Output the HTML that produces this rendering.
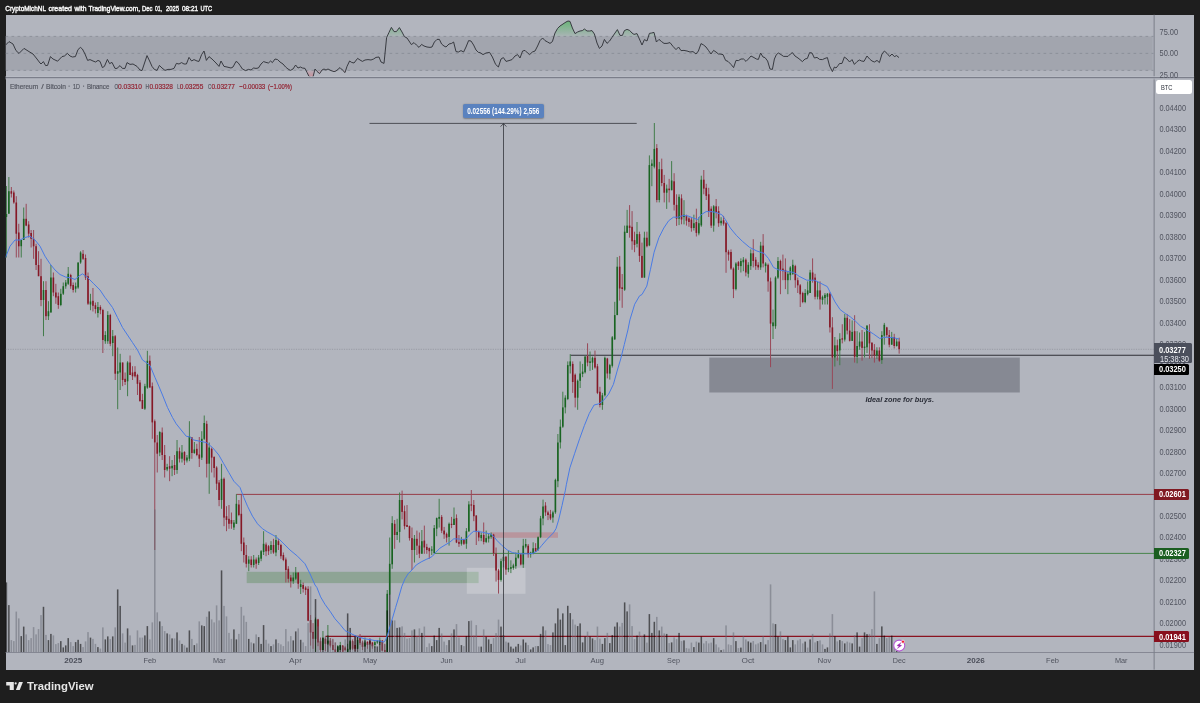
<!DOCTYPE html>
<html><head><meta charset="utf-8"><title>chart</title>
<style>
html,body{margin:0;padding:0;}
body{width:1200px;height:703px;background:#1e1e1e;position:relative;overflow:hidden;font-family:"Liberation Sans",sans-serif;}
#chart{position:absolute;left:5.5px;top:14.8px;width:1188.6px;height:654.8px;background:#b2b5be;}
svg{position:absolute;left:0;top:0;font-family:"Liberation Sans",sans-serif;will-change:transform;}
.sep{position:absolute;background:#7b7e8a;}
.tag{position:absolute;left:1154px;border-radius:0 1.5px 1.5px 0;}
#meas{position:absolute;left:462.8px;top:104.1px;width:81.2px;height:14.2px;background:#5a82bf;border-radius:2px;box-shadow:0 0.5px 1.5px rgba(0,0,0,0.3);}
#btc{position:absolute;left:1155.6px;top:79.8px;width:36.9px;height:14.1px;background:#fff;border-radius:2.5px;}
</style></head><body>
<div id="chart"></div>
<svg width="1200" height="703" viewBox="0 0 1200 703">
<defs><linearGradient id="gg" gradientUnits="userSpaceOnUse" x1="0" y1="17" x2="0" y2="36.4"><stop offset="0" stop-color="#3cb44b" stop-opacity="0.75"/><stop offset="1" stop-color="#3cb44b" stop-opacity="0.06"/></linearGradient><linearGradient id="gr" gradientUnits="userSpaceOnUse" x1="0" y1="70.4" x2="0" y2="79"><stop offset="0" stop-color="#f05060" stop-opacity="0.08"/><stop offset="1" stop-color="#f05060" stop-opacity="0.45"/></linearGradient><clipPath id="cp"><rect x="5.5" y="14.8" width="1149" height="637.7"/></clipPath></defs>
<rect x="1153.5" y="14.8" width="1.3" height="654.8" fill="#878a95"/>
<g clip-path="url(#cp)">
<rect x="5.5" y="36.4" width="1147.2" height="34" fill="#a2a5ae"/>
<line x1="5.5" y1="36.4" x2="1153.5" y2="36.4" stroke="#838691" stroke-width="0.7" stroke-dasharray="2.7 3.3"/>
<line x1="5.5" y1="53.4" x2="1153.5" y2="53.4" stroke="#838691" stroke-width="0.7" stroke-dasharray="2.7 3.3"/>
<line x1="5.5" y1="70.4" x2="1153.5" y2="70.4" stroke="#838691" stroke-width="0.7" stroke-dasharray="2.7 3.3"/>
<polygon points="387.2,36.4 389.0,32.4 391.4,27.4 394.0,31.6 396.4,31.6 399.4,27.6 402.0,32.0 404.3,36.4" fill="url(#gg)"/>
<polygon points="554.0,36.4 555.0,33.0 557.6,28.4 560.0,26.0 563.0,24.0 566.0,22.0 568.0,21.0 570.0,21.4 572.4,28.0 575.0,33.6 577.6,32.0 580.0,31.0 582.4,30.6 584.4,29.0 587.0,31.0 589.6,31.0 592.0,30.6 594.4,34.0 595.1,36.4" fill="url(#gg)"/>
<polygon points="612.7,36.4 615.0,33.0 617.4,29.6 620.0,35.4 622.4,35.4 624.4,30.6 627.0,29.4 629.6,30.4 632.0,33.0 634.0,34.4 637.0,33.6 638.2,36.4" fill="url(#gg)"/>
<polygon points="648.5,36.4 649.4,33.4 651.6,33.0 654.0,32.4 655.0,36.4" fill="url(#gg)"/>
<polygon points="141.3,70.4 142.0,70.6 142.1,70.4" fill="url(#gr)"/>
<polygon points="245.2,70.4 245.6,70.6 246.1,70.4" fill="url(#gr)"/>
<polygon points="306.0,70.4 307.0,72.4 309.0,76.4 311.0,77.6 313.0,77.0 314.6,70.4" fill="url(#gr)"/>
<polygon points="316.2,70.4 317.0,71.4 319.6,73.6 321.7,70.4" fill="url(#gr)"/>
<polygon points="330.6,70.4 331.0,70.6 334.0,71.6 336.0,71.0 336.7,70.4" fill="url(#gr)"/>
<polygon points="342.8,70.4 345.0,72.6 345.7,70.4" fill="url(#gr)"/>
<polygon points="831.8,70.4 832.4,71.6 832.9,70.4" fill="url(#gr)"/>
<polyline fill="none" stroke="#33353b" stroke-width="0.95" stroke-linejoin="round" points="5.6,45.0 9.0,41.6 13.0,44.0 16.0,50.6 19.0,53.4 24.0,48.4 29.0,51.6 33.0,54.0 37.0,59.0 40.0,63.0 41.0,64.0 43.4,61.6 45.6,65.6 47.6,65.4 50.4,56.6 53.0,59.0 57.6,61.2 62.0,56.6 64.4,56.0 67.4,53.4 70.0,56.0 72.4,57.0 75.4,56.6 78.0,49.6 80.4,47.4 82.4,49.0 85.0,54.0 87.6,60.4 90.0,59.6 93.0,61.0 95.6,62.0 98.0,60.4 100.0,61.4 102.4,67.6 104.4,66.4 107.4,59.4 109.6,63.6 112.0,62.4 115.0,68.4 117.0,68.4 120.0,65.6 122.4,68.4 125.0,68.4 127.0,62.6 130.0,64.4 133.0,64.0 137.0,66.4 140.0,70.0 142.0,70.6 147.0,55.6 149.6,61.0 152.0,66.4 154.4,69.4 157.0,70.4 159.4,65.4 162.0,68.0 165.0,70.4 168.0,69.4 171.0,69.4 174.0,68.4 176.4,63.4 179.0,64.0 181.6,62.6 184.0,64.0 186.4,64.0 189.0,57.4 191.6,61.0 194.0,59.6 197.0,61.0 199.0,61.4 201.6,54.6 204.0,51.0 206.4,60.4 209.0,56.6 212.0,59.0 216.0,63.0 219.0,66.4 221.0,61.0 224.0,66.4 227.0,67.0 231.0,68.0 233.0,67.0 236.0,61.4 238.0,62.6 240.0,65.4 242.4,69.0 245.6,70.6 248.4,69.4 251.0,70.0 253.6,68.0 256.0,68.4 258.4,68.0 261.0,64.0 263.6,61.6 266.0,62.4 268.4,63.0 270.6,61.0 272.4,62.6 275.0,59.0 277.6,59.6 280.0,62.0 283.0,64.0 285.6,67.0 288.0,69.0 290.4,70.4 293.0,69.0 295.6,65.0 298.0,68.0 300.4,67.0 302.4,68.0 305.0,68.4 307.0,72.4 309.0,76.4 311.0,77.6 313.0,77.0 315.0,69.0 317.0,71.4 319.6,73.6 322.0,70.0 324.0,69.0 326.0,70.0 328.0,69.0 331.0,70.6 334.0,71.6 336.0,71.0 340.0,67.6 342.4,70.0 345.0,72.6 347.0,66.4 349.6,61.0 351.6,62.4 354.0,63.0 357.6,58.4 360.0,60.0 362.4,61.4 365.0,60.0 368.0,59.6 371.0,60.0 373.6,59.0 376.0,57.4 379.0,57.0 381.0,62.0 384.0,63.4 386.6,37.6 389.0,32.4 391.4,27.4 394.0,31.6 396.4,31.6 399.4,27.6 402.0,32.0 404.4,36.6 407.0,38.0 409.0,41.0 411.4,44.6 414.0,42.6 416.4,45.0 419.0,47.4 421.6,44.4 424.0,46.0 427.0,47.0 430.0,47.4 432.0,47.0 434.4,42.0 437.0,39.4 439.4,39.4 441.6,44.0 444.0,46.0 446.0,47.0 449.0,44.0 451.6,43.4 453.6,42.0 456.0,51.6 458.4,52.0 461.0,50.6 463.6,52.0 466.0,47.0 468.6,40.6 471.0,41.0 473.6,45.0 476.0,50.0 478.4,52.4 480.0,52.6 483.0,54.6 486.0,53.0 489.6,52.4 492.4,57.0 495.6,64.4 498.4,67.0 501.0,59.0 503.4,57.6 506.0,61.4 509.0,60.6 512.0,59.6 515.0,56.0 517.6,54.6 520.0,58.0 522.6,51.0 525.0,50.4 527.6,53.0 529.6,54.6 532.4,52.0 535.0,51.0 537.6,46.0 540.0,40.6 542.6,38.0 545.0,40.6 547.6,42.0 550.0,43.4 552.4,41.6 555.0,33.0 557.6,28.4 560.0,26.0 563.0,24.0 566.0,22.0 568.0,21.0 570.0,21.4 572.4,28.0 575.0,33.6 577.6,32.0 580.0,31.0 582.4,30.6 584.4,29.0 587.0,31.0 589.6,31.0 592.0,30.6 594.4,34.0 597.0,43.0 599.4,48.4 602.0,46.0 604.4,39.4 607.0,43.4 609.6,41.0 612.0,37.4 615.0,33.0 617.4,29.6 620.0,35.4 622.4,35.4 624.4,30.6 627.0,29.4 629.6,30.4 632.0,33.0 634.0,34.4 637.0,33.6 639.4,39.0 642.0,45.0 644.4,39.6 647.0,41.0 649.4,33.4 651.6,33.0 654.0,32.4 656.4,42.0 659.0,39.4 661.6,41.6 664.0,43.4 667.0,43.4 670.0,42.6 673.0,46.4 676.0,49.6 678.6,47.0 681.0,50.6 684.0,50.4 687.0,51.0 690.0,52.0 693.0,51.6 696.0,54.0 698.4,51.0 701.0,43.6 703.6,45.0 706.0,47.0 708.6,50.6 711.0,54.0 713.6,50.4 716.0,52.0 718.4,54.0 720.0,54.0 723.0,54.6 725.6,60.4 728.0,61.4 731.0,64.4 733.6,67.6 736.0,60.4 738.4,60.6 741.0,59.0 743.6,59.0 746.0,61.4 748.4,59.0 751.0,56.0 754.0,57.6 756.4,59.0 758.4,59.4 760.6,53.0 763.0,57.0 765.0,57.6 767.6,61.0 770.0,69.0 772.4,69.4 774.4,59.0 776.4,54.6 778.4,53.0 781.0,54.6 783.6,56.4 788.0,56.4 790.4,54.0 792.4,52.6 795.0,56.0 798.0,58.0 800.0,59.6 802.4,61.6 805.0,59.0 807.4,58.4 809.6,52.6 812.0,53.0 814.4,58.0 817.0,57.4 819.6,59.4 822.4,59.6 825.0,58.4 827.4,57.6 829.6,66.0 832.4,71.6 834.4,67.0 836.0,68.0 838.0,65.6 839.4,63.6 842.0,63.4 844.4,57.0 847.0,59.0 849.6,62.0 852.0,59.6 854.4,64.4 857.0,61.6 859.4,60.0 861.6,61.0 864.0,61.4 867.0,56.0 869.6,59.0 872.0,61.0 874.4,62.0 877.0,60.4 879.4,62.6 882.0,54.0 884.4,51.0 887.0,53.4 889.6,56.4 892.0,54.0 894.4,56.6 896.6,55.6 899.0,57.6"/>
<line x1="5.5" y1="349.3" x2="1154.5" y2="349.3" stroke="#878a94" stroke-width="0.6" stroke-dasharray="1.2 1.2"/>
<rect x="246.7" y="571.8" width="231.9" height="11.3" fill="#8ea495"/>
<rect x="466.8" y="567.8" width="58.7" height="26" fill="#ffffff" fill-opacity="0.22"/>
<rect x="490.4" y="532.3" width="67.6" height="5.5" fill="#b8959d"/>
<rect x="709.3" y="357.6" width="310.5" height="34.9" fill="#868993"/>
<line x1="236.2" y1="494.4" x2="1154.5" y2="494.4" stroke="#94303b" stroke-width="0.9"/>
<line x1="434.3" y1="553.4" x2="1154.5" y2="553.4" stroke="#3c8040" stroke-width="0.9"/>
<line x1="325.4" y1="636.35" x2="1154.5" y2="636.35" stroke="#8a1320" stroke-width="1.05"/>
<line x1="570.4" y1="355.3" x2="1154.5" y2="355.3" stroke="#2e2f34" stroke-width="1.08"/>
<line x1="6.40" y1="186.0" x2="6.40" y2="257.5" stroke="#427c4a" stroke-width="1"/>
<rect x="5.60" y="214.0" width="1.6" height="3.0" fill="#196422"/>
<line x1="8.87" y1="177.0" x2="8.87" y2="213.8" stroke="#427c4a" stroke-width="1"/>
<rect x="8.07" y="191.2" width="1.6" height="22.5" fill="#196422"/>
<line x1="11.35" y1="187.0" x2="11.35" y2="197.5" stroke="#984858" stroke-width="1"/>
<rect x="10.55" y="191.2" width="1.6" height="2.5" fill="#851826"/>
<line x1="13.82" y1="190.5" x2="13.82" y2="203.8" stroke="#984858" stroke-width="1"/>
<rect x="13.02" y="192.5" width="1.6" height="10.0" fill="#851826"/>
<line x1="16.29" y1="196.2" x2="16.29" y2="257.5" stroke="#984858" stroke-width="1"/>
<rect x="15.49" y="202.5" width="1.6" height="31.2" fill="#851826"/>
<line x1="18.77" y1="223.8" x2="18.77" y2="257.5" stroke="#984858" stroke-width="1"/>
<rect x="17.96" y="232.5" width="1.6" height="13.8" fill="#851826"/>
<line x1="21.24" y1="240.0" x2="21.24" y2="257.5" stroke="#427c4a" stroke-width="1"/>
<rect x="20.44" y="240.0" width="1.6" height="6.2" fill="#196422"/>
<line x1="23.71" y1="207.5" x2="23.71" y2="240.0" stroke="#427c4a" stroke-width="1"/>
<rect x="22.91" y="218.8" width="1.6" height="21.2" fill="#196422"/>
<line x1="26.18" y1="203.8" x2="26.18" y2="226.2" stroke="#984858" stroke-width="1"/>
<rect x="25.38" y="218.8" width="1.6" height="6.8" fill="#851826"/>
<line x1="28.66" y1="221.2" x2="28.66" y2="237.5" stroke="#984858" stroke-width="1"/>
<rect x="27.86" y="224.5" width="1.6" height="9.2" fill="#851826"/>
<line x1="31.13" y1="230.0" x2="31.13" y2="247.5" stroke="#984858" stroke-width="1"/>
<rect x="30.33" y="233.0" width="1.6" height="5.8" fill="#851826"/>
<line x1="33.60" y1="230.0" x2="33.60" y2="258.8" stroke="#984858" stroke-width="1"/>
<rect x="32.80" y="238.8" width="1.6" height="7.5" fill="#851826"/>
<line x1="36.08" y1="243.8" x2="36.08" y2="270.0" stroke="#984858" stroke-width="1"/>
<rect x="35.28" y="246.2" width="1.6" height="18.8" fill="#851826"/>
<line x1="38.55" y1="251.2" x2="38.55" y2="276.2" stroke="#984858" stroke-width="1"/>
<rect x="37.75" y="265.0" width="1.6" height="11.2" fill="#851826"/>
<line x1="41.02" y1="258.8" x2="41.02" y2="306.2" stroke="#984858" stroke-width="1"/>
<rect x="40.22" y="276.2" width="1.6" height="23.8" fill="#851826"/>
<line x1="43.49" y1="281.2" x2="43.49" y2="336.2" stroke="#427c4a" stroke-width="1"/>
<rect x="42.70" y="290.0" width="1.6" height="10.0" fill="#196422"/>
<line x1="45.97" y1="281.2" x2="45.97" y2="320.0" stroke="#984858" stroke-width="1"/>
<rect x="45.17" y="290.0" width="1.6" height="26.2" fill="#851826"/>
<line x1="48.44" y1="301.2" x2="48.44" y2="320.0" stroke="#427c4a" stroke-width="1"/>
<rect x="47.64" y="311.2" width="1.6" height="5.0" fill="#196422"/>
<line x1="50.91" y1="265.0" x2="50.91" y2="312.5" stroke="#427c4a" stroke-width="1"/>
<rect x="50.11" y="277.5" width="1.6" height="35.0" fill="#196422"/>
<line x1="53.39" y1="272.5" x2="53.39" y2="296.2" stroke="#984858" stroke-width="1"/>
<rect x="52.59" y="277.5" width="1.6" height="15.0" fill="#851826"/>
<line x1="55.86" y1="283.8" x2="55.86" y2="303.8" stroke="#984858" stroke-width="1"/>
<rect x="55.06" y="292.5" width="1.6" height="5.0" fill="#851826"/>
<line x1="58.33" y1="292.5" x2="58.33" y2="308.8" stroke="#984858" stroke-width="1"/>
<rect x="57.53" y="296.2" width="1.6" height="8.8" fill="#851826"/>
<line x1="60.81" y1="288.8" x2="60.81" y2="306.2" stroke="#427c4a" stroke-width="1"/>
<rect x="60.01" y="293.8" width="1.6" height="11.2" fill="#196422"/>
<line x1="63.28" y1="282.5" x2="63.28" y2="295.0" stroke="#427c4a" stroke-width="1"/>
<rect x="62.48" y="286.2" width="1.6" height="7.5" fill="#196422"/>
<line x1="65.75" y1="280.0" x2="65.75" y2="288.8" stroke="#427c4a" stroke-width="1"/>
<rect x="64.95" y="282.5" width="1.6" height="3.8" fill="#196422"/>
<line x1="68.22" y1="267.0" x2="68.22" y2="285.0" stroke="#427c4a" stroke-width="1"/>
<rect x="67.42" y="273.8" width="1.6" height="10.0" fill="#196422"/>
<line x1="70.70" y1="273.8" x2="70.70" y2="288.8" stroke="#984858" stroke-width="1"/>
<rect x="69.90" y="275.0" width="1.6" height="11.2" fill="#851826"/>
<line x1="73.17" y1="282.5" x2="73.17" y2="292.5" stroke="#984858" stroke-width="1"/>
<rect x="72.37" y="285.0" width="1.6" height="5.0" fill="#851826"/>
<line x1="75.64" y1="282.5" x2="75.64" y2="292.5" stroke="#427c4a" stroke-width="1"/>
<rect x="74.84" y="286.2" width="1.6" height="2.5" fill="#196422"/>
<line x1="78.12" y1="262.5" x2="78.12" y2="288.8" stroke="#427c4a" stroke-width="1"/>
<rect x="77.32" y="262.5" width="1.6" height="25.0" fill="#196422"/>
<line x1="80.59" y1="251.2" x2="80.59" y2="263.8" stroke="#427c4a" stroke-width="1"/>
<rect x="79.79" y="252.5" width="1.6" height="10.0" fill="#196422"/>
<line x1="83.06" y1="250.0" x2="83.06" y2="260.0" stroke="#984858" stroke-width="1"/>
<rect x="82.26" y="253.8" width="1.6" height="5.0" fill="#851826"/>
<line x1="85.54" y1="254.5" x2="85.54" y2="280.0" stroke="#984858" stroke-width="1"/>
<rect x="84.74" y="258.0" width="1.6" height="19.5" fill="#851826"/>
<line x1="88.01" y1="272.5" x2="88.01" y2="305.0" stroke="#984858" stroke-width="1"/>
<rect x="87.21" y="276.2" width="1.6" height="27.5" fill="#851826"/>
<line x1="90.48" y1="293.8" x2="90.48" y2="310.2" stroke="#427c4a" stroke-width="1"/>
<rect x="89.68" y="301.5" width="1.6" height="3.0" fill="#196422"/>
<line x1="92.95" y1="288.0" x2="92.95" y2="311.5" stroke="#984858" stroke-width="1"/>
<rect x="92.16" y="300.8" width="1.6" height="5.0" fill="#851826"/>
<line x1="95.43" y1="302.5" x2="95.43" y2="313.5" stroke="#984858" stroke-width="1"/>
<rect x="94.63" y="305.2" width="1.6" height="3.8" fill="#851826"/>
<line x1="97.90" y1="302.0" x2="97.90" y2="317.5" stroke="#427c4a" stroke-width="1"/>
<rect x="97.10" y="307.0" width="1.6" height="6.0" fill="#196422"/>
<line x1="100.37" y1="305.2" x2="100.37" y2="314.2" stroke="#984858" stroke-width="1"/>
<rect x="99.57" y="307.0" width="1.6" height="3.2" fill="#851826"/>
<line x1="102.85" y1="308.8" x2="102.85" y2="353.0" stroke="#984858" stroke-width="1"/>
<rect x="102.05" y="310.0" width="1.6" height="30.0" fill="#851826"/>
<line x1="105.32" y1="331.2" x2="105.32" y2="343.8" stroke="#427c4a" stroke-width="1"/>
<rect x="104.52" y="335.0" width="1.6" height="6.2" fill="#196422"/>
<line x1="107.79" y1="311.2" x2="107.79" y2="343.8" stroke="#427c4a" stroke-width="1"/>
<rect x="106.99" y="315.0" width="1.6" height="26.2" fill="#196422"/>
<line x1="110.27" y1="313.8" x2="110.27" y2="346.2" stroke="#984858" stroke-width="1"/>
<rect x="109.47" y="315.0" width="1.6" height="28.8" fill="#851826"/>
<line x1="112.74" y1="330.0" x2="112.74" y2="356.2" stroke="#427c4a" stroke-width="1"/>
<rect x="111.94" y="336.2" width="1.6" height="6.8" fill="#196422"/>
<line x1="115.21" y1="335.0" x2="115.21" y2="380.0" stroke="#984858" stroke-width="1"/>
<rect x="114.41" y="336.2" width="1.6" height="37.5" fill="#851826"/>
<line x1="117.69" y1="347.5" x2="117.69" y2="409.2" stroke="#427c4a" stroke-width="1"/>
<rect x="116.89" y="371.2" width="1.6" height="2.5" fill="#196422"/>
<line x1="120.16" y1="353.8" x2="120.16" y2="390.0" stroke="#427c4a" stroke-width="1"/>
<rect x="119.36" y="362.5" width="1.6" height="10.0" fill="#196422"/>
<line x1="122.63" y1="362.5" x2="122.63" y2="386.2" stroke="#984858" stroke-width="1"/>
<rect x="121.83" y="362.5" width="1.6" height="17.5" fill="#851826"/>
<line x1="125.10" y1="372.5" x2="125.10" y2="385.0" stroke="#984858" stroke-width="1"/>
<rect x="124.30" y="378.8" width="1.6" height="3.2" fill="#851826"/>
<line x1="127.58" y1="361.2" x2="127.58" y2="396.2" stroke="#427c4a" stroke-width="1"/>
<rect x="126.78" y="362.5" width="1.6" height="18.8" fill="#196422"/>
<line x1="130.05" y1="355.5" x2="130.05" y2="375.0" stroke="#984858" stroke-width="1"/>
<rect x="129.25" y="362.5" width="1.6" height="12.5" fill="#851826"/>
<line x1="132.52" y1="366.2" x2="132.52" y2="380.0" stroke="#984858" stroke-width="1"/>
<rect x="131.72" y="372.5" width="1.6" height="3.8" fill="#851826"/>
<line x1="135.00" y1="366.2" x2="135.00" y2="377.5" stroke="#984858" stroke-width="1"/>
<rect x="134.20" y="371.8" width="1.6" height="4.5" fill="#851826"/>
<line x1="137.47" y1="373.8" x2="137.47" y2="395.0" stroke="#984858" stroke-width="1"/>
<rect x="136.67" y="375.0" width="1.6" height="8.8" fill="#851826"/>
<line x1="139.94" y1="380.0" x2="139.94" y2="401.2" stroke="#984858" stroke-width="1"/>
<rect x="139.14" y="382.5" width="1.6" height="18.8" fill="#851826"/>
<line x1="142.41" y1="393.8" x2="142.41" y2="408.8" stroke="#984858" stroke-width="1"/>
<rect x="141.61" y="400.0" width="1.6" height="8.8" fill="#851826"/>
<line x1="144.89" y1="383.8" x2="144.89" y2="410.0" stroke="#427c4a" stroke-width="1"/>
<rect x="144.09" y="386.2" width="1.6" height="22.5" fill="#196422"/>
<line x1="147.36" y1="350.8" x2="147.36" y2="388.8" stroke="#427c4a" stroke-width="1"/>
<rect x="146.56" y="360.8" width="1.6" height="26.8" fill="#196422"/>
<line x1="149.83" y1="355.5" x2="149.83" y2="387.5" stroke="#984858" stroke-width="1"/>
<rect x="149.03" y="360.8" width="1.6" height="26.8" fill="#851826"/>
<line x1="152.31" y1="382.5" x2="152.31" y2="438.8" stroke="#984858" stroke-width="1"/>
<rect x="151.51" y="386.2" width="1.6" height="36.2" fill="#851826"/>
<line x1="154.78" y1="419.5" x2="154.78" y2="550.0" stroke="#984858" stroke-width="1"/>
<rect x="153.98" y="421.2" width="1.6" height="21.2" fill="#851826"/>
<line x1="157.25" y1="435.0" x2="157.25" y2="472.5" stroke="#984858" stroke-width="1"/>
<rect x="156.45" y="442.5" width="1.6" height="11.2" fill="#851826"/>
<line x1="159.73" y1="431.2" x2="159.73" y2="456.2" stroke="#427c4a" stroke-width="1"/>
<rect x="158.93" y="432.0" width="1.6" height="20.5" fill="#196422"/>
<line x1="162.20" y1="427.5" x2="162.20" y2="460.0" stroke="#984858" stroke-width="1"/>
<rect x="161.40" y="432.5" width="1.6" height="22.5" fill="#851826"/>
<line x1="164.67" y1="445.0" x2="164.67" y2="477.5" stroke="#984858" stroke-width="1"/>
<rect x="163.87" y="455.0" width="1.6" height="15.0" fill="#851826"/>
<line x1="167.15" y1="463.8" x2="167.15" y2="471.2" stroke="#427c4a" stroke-width="1"/>
<rect x="166.34" y="467.0" width="1.6" height="2.5" fill="#196422"/>
<line x1="169.62" y1="456.2" x2="169.62" y2="481.2" stroke="#984858" stroke-width="1"/>
<rect x="168.82" y="466.2" width="1.6" height="2.5" fill="#851826"/>
<line x1="172.09" y1="460.0" x2="172.09" y2="476.2" stroke="#427c4a" stroke-width="1"/>
<rect x="171.29" y="465.8" width="1.6" height="2.5" fill="#196422"/>
<line x1="174.56" y1="455.0" x2="174.56" y2="475.0" stroke="#984858" stroke-width="1"/>
<rect x="173.76" y="465.0" width="1.6" height="5.0" fill="#851826"/>
<line x1="177.04" y1="440.0" x2="177.04" y2="473.8" stroke="#427c4a" stroke-width="1"/>
<rect x="176.24" y="451.2" width="1.6" height="18.8" fill="#196422"/>
<line x1="179.51" y1="447.5" x2="179.51" y2="462.5" stroke="#984858" stroke-width="1"/>
<rect x="178.71" y="451.2" width="1.6" height="7.5" fill="#851826"/>
<line x1="181.98" y1="445.0" x2="181.98" y2="462.5" stroke="#427c4a" stroke-width="1"/>
<rect x="181.18" y="452.5" width="1.6" height="6.2" fill="#196422"/>
<line x1="184.46" y1="451.2" x2="184.46" y2="465.0" stroke="#984858" stroke-width="1"/>
<rect x="183.66" y="452.0" width="1.6" height="8.5" fill="#851826"/>
<line x1="186.93" y1="455.0" x2="186.93" y2="462.5" stroke="#427c4a" stroke-width="1"/>
<rect x="186.13" y="457.5" width="1.6" height="3.0" fill="#196422"/>
<line x1="189.40" y1="421.2" x2="189.40" y2="461.2" stroke="#427c4a" stroke-width="1"/>
<rect x="188.60" y="436.2" width="1.6" height="22.5" fill="#196422"/>
<line x1="191.88" y1="437.0" x2="191.88" y2="458.8" stroke="#984858" stroke-width="1"/>
<rect x="191.07" y="437.5" width="1.6" height="15.5" fill="#851826"/>
<line x1="194.35" y1="442.0" x2="194.35" y2="453.8" stroke="#427c4a" stroke-width="1"/>
<rect x="193.55" y="449.5" width="1.6" height="3.5" fill="#196422"/>
<line x1="196.82" y1="443.8" x2="196.82" y2="456.2" stroke="#984858" stroke-width="1"/>
<rect x="196.02" y="448.8" width="1.6" height="6.2" fill="#851826"/>
<line x1="199.29" y1="437.0" x2="199.29" y2="467.0" stroke="#984858" stroke-width="1"/>
<rect x="198.49" y="454.5" width="1.6" height="4.2" fill="#851826"/>
<line x1="201.77" y1="431.2" x2="201.77" y2="460.0" stroke="#427c4a" stroke-width="1"/>
<rect x="200.97" y="438.8" width="1.6" height="18.8" fill="#196422"/>
<line x1="204.24" y1="415.5" x2="204.24" y2="440.0" stroke="#427c4a" stroke-width="1"/>
<rect x="203.44" y="423.0" width="1.6" height="15.8" fill="#196422"/>
<line x1="206.71" y1="420.8" x2="206.71" y2="477.5" stroke="#984858" stroke-width="1"/>
<rect x="205.91" y="423.8" width="1.6" height="40.0" fill="#851826"/>
<line x1="209.19" y1="442.5" x2="209.19" y2="493.8" stroke="#427c4a" stroke-width="1"/>
<rect x="208.39" y="447.5" width="1.6" height="16.2" fill="#196422"/>
<line x1="211.66" y1="447.5" x2="211.66" y2="472.5" stroke="#984858" stroke-width="1"/>
<rect x="210.86" y="448.8" width="1.6" height="8.8" fill="#851826"/>
<line x1="214.13" y1="456.2" x2="214.13" y2="477.5" stroke="#984858" stroke-width="1"/>
<rect x="213.33" y="457.0" width="1.6" height="11.0" fill="#851826"/>
<line x1="216.60" y1="466.2" x2="216.60" y2="490.0" stroke="#984858" stroke-width="1"/>
<rect x="215.80" y="467.5" width="1.6" height="16.2" fill="#851826"/>
<line x1="219.08" y1="480.0" x2="219.08" y2="506.2" stroke="#984858" stroke-width="1"/>
<rect x="218.28" y="482.5" width="1.6" height="17.5" fill="#851826"/>
<line x1="221.55" y1="463.8" x2="221.55" y2="508.8" stroke="#427c4a" stroke-width="1"/>
<rect x="220.75" y="478.8" width="1.6" height="21.2" fill="#196422"/>
<line x1="224.02" y1="477.5" x2="224.02" y2="526.2" stroke="#984858" stroke-width="1"/>
<rect x="223.22" y="478.8" width="1.6" height="38.8" fill="#851826"/>
<line x1="226.50" y1="506.2" x2="226.50" y2="531.2" stroke="#984858" stroke-width="1"/>
<rect x="225.70" y="516.2" width="1.6" height="3.8" fill="#851826"/>
<line x1="228.97" y1="505.0" x2="228.97" y2="528.8" stroke="#984858" stroke-width="1"/>
<rect x="228.17" y="518.8" width="1.6" height="5.0" fill="#851826"/>
<line x1="231.44" y1="512.5" x2="231.44" y2="528.8" stroke="#984858" stroke-width="1"/>
<rect x="230.64" y="520.0" width="1.6" height="3.8" fill="#851826"/>
<line x1="233.92" y1="520.0" x2="233.92" y2="530.0" stroke="#427c4a" stroke-width="1"/>
<rect x="233.12" y="522.5" width="1.6" height="5.0" fill="#196422"/>
<line x1="236.39" y1="494.2" x2="236.39" y2="523.8" stroke="#427c4a" stroke-width="1"/>
<rect x="235.59" y="503.8" width="1.6" height="20.0" fill="#196422"/>
<line x1="238.86" y1="500.0" x2="238.86" y2="516.2" stroke="#984858" stroke-width="1"/>
<rect x="238.06" y="504.5" width="1.6" height="10.5" fill="#851826"/>
<line x1="241.33" y1="494.2" x2="241.33" y2="551.2" stroke="#984858" stroke-width="1"/>
<rect x="240.53" y="513.8" width="1.6" height="30.0" fill="#851826"/>
<line x1="243.81" y1="537.5" x2="243.81" y2="562.5" stroke="#984858" stroke-width="1"/>
<rect x="243.01" y="542.5" width="1.6" height="12.5" fill="#851826"/>
<line x1="246.28" y1="545.0" x2="246.28" y2="567.5" stroke="#984858" stroke-width="1"/>
<rect x="245.48" y="555.0" width="1.6" height="8.8" fill="#851826"/>
<line x1="248.75" y1="556.2" x2="248.75" y2="571.2" stroke="#427c4a" stroke-width="1"/>
<rect x="247.95" y="559.5" width="1.6" height="4.2" fill="#196422"/>
<line x1="251.23" y1="556.2" x2="251.23" y2="567.5" stroke="#984858" stroke-width="1"/>
<rect x="250.43" y="559.5" width="1.6" height="5.5" fill="#851826"/>
<line x1="253.70" y1="555.0" x2="253.70" y2="567.5" stroke="#427c4a" stroke-width="1"/>
<rect x="252.90" y="559.5" width="1.6" height="5.5" fill="#196422"/>
<line x1="256.17" y1="557.5" x2="256.17" y2="568.8" stroke="#984858" stroke-width="1"/>
<rect x="255.37" y="559.5" width="1.6" height="4.2" fill="#851826"/>
<line x1="258.65" y1="555.0" x2="258.65" y2="565.0" stroke="#427c4a" stroke-width="1"/>
<rect x="257.85" y="557.5" width="1.6" height="5.5" fill="#196422"/>
<line x1="261.12" y1="550.0" x2="261.12" y2="561.2" stroke="#427c4a" stroke-width="1"/>
<rect x="260.32" y="551.2" width="1.6" height="7.5" fill="#196422"/>
<line x1="263.59" y1="531.2" x2="263.59" y2="555.0" stroke="#427c4a" stroke-width="1"/>
<rect x="262.79" y="543.8" width="1.6" height="8.2" fill="#196422"/>
<line x1="266.06" y1="542.5" x2="266.06" y2="556.2" stroke="#984858" stroke-width="1"/>
<rect x="265.26" y="544.5" width="1.6" height="6.8" fill="#851826"/>
<line x1="268.54" y1="545.0" x2="268.54" y2="555.0" stroke="#984858" stroke-width="1"/>
<rect x="267.74" y="546.2" width="1.6" height="5.0" fill="#851826"/>
<line x1="271.01" y1="541.2" x2="271.01" y2="553.8" stroke="#427c4a" stroke-width="1"/>
<rect x="270.21" y="545.0" width="1.6" height="5.0" fill="#196422"/>
<line x1="273.48" y1="538.8" x2="273.48" y2="553.8" stroke="#984858" stroke-width="1"/>
<rect x="272.68" y="545.0" width="1.6" height="7.5" fill="#851826"/>
<line x1="275.96" y1="535.0" x2="275.96" y2="556.2" stroke="#427c4a" stroke-width="1"/>
<rect x="275.16" y="540.0" width="1.6" height="12.5" fill="#196422"/>
<line x1="278.43" y1="538.8" x2="278.43" y2="550.0" stroke="#984858" stroke-width="1"/>
<rect x="277.63" y="541.2" width="1.6" height="3.8" fill="#851826"/>
<line x1="280.90" y1="543.8" x2="280.90" y2="558.8" stroke="#984858" stroke-width="1"/>
<rect x="280.10" y="545.0" width="1.6" height="11.2" fill="#851826"/>
<line x1="283.38" y1="552.5" x2="283.38" y2="561.2" stroke="#984858" stroke-width="1"/>
<rect x="282.58" y="555.0" width="1.6" height="5.0" fill="#851826"/>
<line x1="285.85" y1="557.5" x2="285.85" y2="582.5" stroke="#984858" stroke-width="1"/>
<rect x="285.05" y="559.5" width="1.6" height="10.5" fill="#851826"/>
<line x1="288.32" y1="566.2" x2="288.32" y2="582.5" stroke="#984858" stroke-width="1"/>
<rect x="287.52" y="568.8" width="1.6" height="10.0" fill="#851826"/>
<line x1="290.79" y1="575.0" x2="290.79" y2="587.5" stroke="#984858" stroke-width="1"/>
<rect x="289.99" y="577.5" width="1.6" height="3.8" fill="#851826"/>
<line x1="293.27" y1="572.5" x2="293.27" y2="583.8" stroke="#427c4a" stroke-width="1"/>
<rect x="292.47" y="577.5" width="1.6" height="3.8" fill="#196422"/>
<line x1="295.74" y1="567.0" x2="295.74" y2="580.0" stroke="#427c4a" stroke-width="1"/>
<rect x="294.94" y="572.5" width="1.6" height="6.2" fill="#196422"/>
<line x1="298.21" y1="572.5" x2="298.21" y2="588.8" stroke="#984858" stroke-width="1"/>
<rect x="297.41" y="572.5" width="1.6" height="11.2" fill="#851826"/>
<line x1="300.69" y1="579.8" x2="300.69" y2="594.0" stroke="#427c4a" stroke-width="1"/>
<rect x="299.89" y="584.2" width="1.6" height="2.8" fill="#196422"/>
<line x1="303.16" y1="582.5" x2="303.16" y2="592.5" stroke="#984858" stroke-width="1"/>
<rect x="302.36" y="585.0" width="1.6" height="3.8" fill="#851826"/>
<line x1="305.63" y1="586.2" x2="305.63" y2="595.0" stroke="#984858" stroke-width="1"/>
<rect x="304.83" y="587.5" width="1.6" height="2.5" fill="#851826"/>
<line x1="308.11" y1="586.2" x2="308.11" y2="621.2" stroke="#984858" stroke-width="1"/>
<rect x="307.31" y="588.8" width="1.6" height="31.9" fill="#851826"/>
<line x1="310.58" y1="615.0" x2="310.58" y2="645.6" stroke="#984858" stroke-width="1"/>
<rect x="309.78" y="620.0" width="1.6" height="12.5" fill="#851826"/>
<line x1="313.05" y1="623.1" x2="313.05" y2="648.8" stroke="#984858" stroke-width="1"/>
<rect x="312.25" y="631.9" width="1.6" height="6.9" fill="#851826"/>
<line x1="315.52" y1="617.5" x2="315.52" y2="651.9" stroke="#427c4a" stroke-width="1"/>
<rect x="314.72" y="619.4" width="1.6" height="19.4" fill="#196422"/>
<line x1="318.00" y1="618.8" x2="318.00" y2="646.2" stroke="#984858" stroke-width="1"/>
<rect x="317.20" y="619.4" width="1.6" height="23.1" fill="#851826"/>
<line x1="320.47" y1="637.5" x2="320.47" y2="651.9" stroke="#984858" stroke-width="1"/>
<rect x="319.67" y="641.2" width="1.6" height="8.8" fill="#851826"/>
<line x1="322.94" y1="631.0" x2="322.94" y2="650.0" stroke="#427c4a" stroke-width="1"/>
<rect x="322.14" y="638.1" width="1.6" height="11.9" fill="#196422"/>
<line x1="325.42" y1="637.5" x2="325.42" y2="651.2" stroke="#984858" stroke-width="1"/>
<rect x="324.62" y="638.8" width="1.6" height="5.0" fill="#851826"/>
<line x1="327.89" y1="625.0" x2="327.89" y2="645.0" stroke="#427c4a" stroke-width="1"/>
<rect x="327.09" y="640.6" width="1.6" height="3.1" fill="#196422"/>
<line x1="330.36" y1="638.1" x2="330.36" y2="647.5" stroke="#984858" stroke-width="1"/>
<rect x="329.56" y="640.6" width="1.6" height="5.0" fill="#851826"/>
<line x1="332.84" y1="638.8" x2="332.84" y2="650.0" stroke="#984858" stroke-width="1"/>
<rect x="332.04" y="645.0" width="1.6" height="5.0" fill="#851826"/>
<line x1="335.31" y1="642.5" x2="335.31" y2="652.2" stroke="#984858" stroke-width="1"/>
<rect x="334.51" y="649.4" width="1.6" height="2.5" fill="#851826"/>
<line x1="337.78" y1="645.0" x2="337.78" y2="652.2" stroke="#427c4a" stroke-width="1"/>
<rect x="336.98" y="646.2" width="1.6" height="5.6" fill="#196422"/>
<line x1="340.25" y1="641.9" x2="340.25" y2="650.0" stroke="#427c4a" stroke-width="1"/>
<rect x="339.45" y="645.0" width="1.6" height="5.0" fill="#196422"/>
<line x1="342.73" y1="645.0" x2="342.73" y2="651.9" stroke="#984858" stroke-width="1"/>
<rect x="341.93" y="645.6" width="1.6" height="6.2" fill="#851826"/>
<line x1="345.20" y1="646.2" x2="345.20" y2="651.2" stroke="#984858" stroke-width="1"/>
<rect x="344.40" y="647.5" width="1.6" height="2.5" fill="#851826"/>
<line x1="347.67" y1="643.8" x2="347.67" y2="652.2" stroke="#427c4a" stroke-width="1"/>
<rect x="346.87" y="648.8" width="1.6" height="3.1" fill="#196422"/>
<line x1="350.15" y1="640.0" x2="350.15" y2="650.0" stroke="#427c4a" stroke-width="1"/>
<rect x="349.35" y="641.2" width="1.6" height="8.1" fill="#196422"/>
<line x1="352.62" y1="639.4" x2="352.62" y2="650.0" stroke="#984858" stroke-width="1"/>
<rect x="351.82" y="641.2" width="1.6" height="7.5" fill="#851826"/>
<line x1="355.09" y1="635.0" x2="355.09" y2="651.2" stroke="#984858" stroke-width="1"/>
<rect x="354.29" y="645.0" width="1.6" height="3.8" fill="#851826"/>
<line x1="357.57" y1="636.2" x2="357.57" y2="648.8" stroke="#427c4a" stroke-width="1"/>
<rect x="356.77" y="640.0" width="1.6" height="8.8" fill="#196422"/>
<line x1="360.04" y1="634.0" x2="360.04" y2="645.0" stroke="#984858" stroke-width="1"/>
<rect x="359.24" y="638.1" width="1.6" height="5.0" fill="#851826"/>
<line x1="362.51" y1="640.6" x2="362.51" y2="650.0" stroke="#984858" stroke-width="1"/>
<rect x="361.71" y="642.5" width="1.6" height="4.4" fill="#851826"/>
<line x1="364.98" y1="637.5" x2="364.98" y2="646.9" stroke="#427c4a" stroke-width="1"/>
<rect x="364.18" y="642.5" width="1.6" height="3.8" fill="#196422"/>
<line x1="367.46" y1="641.2" x2="367.46" y2="648.8" stroke="#984858" stroke-width="1"/>
<rect x="366.66" y="641.9" width="1.6" height="3.1" fill="#851826"/>
<line x1="369.93" y1="638.1" x2="369.93" y2="645.0" stroke="#984858" stroke-width="1"/>
<rect x="369.13" y="641.2" width="1.6" height="2.5" fill="#851826"/>
<line x1="372.40" y1="641.9" x2="372.40" y2="648.8" stroke="#984858" stroke-width="1"/>
<rect x="371.60" y="642.5" width="1.6" height="3.8" fill="#851826"/>
<line x1="374.88" y1="641.2" x2="374.88" y2="647.5" stroke="#427c4a" stroke-width="1"/>
<rect x="374.08" y="642.2" width="1.6" height="2.8" fill="#196422"/>
<line x1="377.35" y1="640.0" x2="377.35" y2="643.8" stroke="#427c4a" stroke-width="1"/>
<rect x="376.55" y="641.0" width="1.6" height="1.5" fill="#196422"/>
<line x1="379.82" y1="637.5" x2="379.82" y2="645.0" stroke="#427c4a" stroke-width="1"/>
<rect x="379.02" y="640.6" width="1.6" height="1.9" fill="#196422"/>
<line x1="382.30" y1="640.0" x2="382.30" y2="651.2" stroke="#984858" stroke-width="1"/>
<rect x="381.50" y="640.6" width="1.6" height="10.0" fill="#851826"/>
<line x1="384.77" y1="643.8" x2="384.77" y2="652.2" stroke="#984858" stroke-width="1"/>
<rect x="383.97" y="650.0" width="1.6" height="2.2" fill="#851826"/>
<line x1="387.24" y1="590.0" x2="387.24" y2="652.2" stroke="#427c4a" stroke-width="1"/>
<rect x="386.44" y="593.8" width="1.6" height="58.1" fill="#196422"/>
<line x1="389.71" y1="537.5" x2="389.71" y2="595.0" stroke="#427c4a" stroke-width="1"/>
<rect x="388.91" y="563.8" width="1.6" height="30.6" fill="#196422"/>
<line x1="392.19" y1="516.2" x2="392.19" y2="568.8" stroke="#427c4a" stroke-width="1"/>
<rect x="391.39" y="523.1" width="1.6" height="41.2" fill="#196422"/>
<line x1="394.66" y1="520.0" x2="394.66" y2="548.8" stroke="#984858" stroke-width="1"/>
<rect x="393.86" y="523.8" width="1.6" height="11.2" fill="#851826"/>
<line x1="397.13" y1="518.8" x2="397.13" y2="540.0" stroke="#427c4a" stroke-width="1"/>
<rect x="396.33" y="531.9" width="1.6" height="3.1" fill="#196422"/>
<line x1="399.61" y1="492.5" x2="399.61" y2="542.5" stroke="#427c4a" stroke-width="1"/>
<rect x="398.81" y="500.0" width="1.6" height="31.9" fill="#196422"/>
<line x1="402.08" y1="490.6" x2="402.08" y2="519.4" stroke="#984858" stroke-width="1"/>
<rect x="401.28" y="500.0" width="1.6" height="11.9" fill="#851826"/>
<line x1="404.55" y1="505.6" x2="404.55" y2="529.4" stroke="#984858" stroke-width="1"/>
<rect x="403.75" y="511.2" width="1.6" height="15.0" fill="#851826"/>
<line x1="407.03" y1="505.0" x2="407.03" y2="526.9" stroke="#984858" stroke-width="1"/>
<rect x="406.23" y="525.0" width="1.6" height="1.9" fill="#851826"/>
<line x1="409.50" y1="525.6" x2="409.50" y2="540.6" stroke="#984858" stroke-width="1"/>
<rect x="408.70" y="526.2" width="1.6" height="11.9" fill="#851826"/>
<line x1="411.97" y1="527.5" x2="411.97" y2="570.0" stroke="#984858" stroke-width="1"/>
<rect x="411.17" y="538.1" width="1.6" height="11.9" fill="#851826"/>
<line x1="414.44" y1="535.0" x2="414.44" y2="562.5" stroke="#427c4a" stroke-width="1"/>
<rect x="413.64" y="538.8" width="1.6" height="11.2" fill="#196422"/>
<line x1="416.92" y1="530.6" x2="416.92" y2="555.0" stroke="#984858" stroke-width="1"/>
<rect x="416.12" y="538.8" width="1.6" height="6.9" fill="#851826"/>
<line x1="419.39" y1="532.5" x2="419.39" y2="558.1" stroke="#984858" stroke-width="1"/>
<rect x="418.59" y="545.6" width="1.6" height="8.1" fill="#851826"/>
<line x1="421.86" y1="530.0" x2="421.86" y2="553.8" stroke="#427c4a" stroke-width="1"/>
<rect x="421.06" y="541.2" width="1.6" height="12.5" fill="#196422"/>
<line x1="424.34" y1="525.6" x2="424.34" y2="553.8" stroke="#984858" stroke-width="1"/>
<rect x="423.54" y="540.6" width="1.6" height="6.9" fill="#851826"/>
<line x1="426.81" y1="543.8" x2="426.81" y2="553.8" stroke="#984858" stroke-width="1"/>
<rect x="426.01" y="546.9" width="1.6" height="3.1" fill="#851826"/>
<line x1="429.28" y1="547.5" x2="429.28" y2="558.8" stroke="#984858" stroke-width="1"/>
<rect x="428.48" y="548.1" width="1.6" height="3.1" fill="#851826"/>
<line x1="431.76" y1="546.2" x2="431.76" y2="555.0" stroke="#427c4a" stroke-width="1"/>
<rect x="430.96" y="549.4" width="1.6" height="1.2" fill="#196422"/>
<line x1="434.23" y1="525.0" x2="434.23" y2="553.8" stroke="#427c4a" stroke-width="1"/>
<rect x="433.43" y="528.1" width="1.6" height="25.0" fill="#196422"/>
<line x1="436.70" y1="517.5" x2="436.70" y2="536.2" stroke="#427c4a" stroke-width="1"/>
<rect x="435.90" y="518.1" width="1.6" height="10.6" fill="#196422"/>
<line x1="439.17" y1="498.8" x2="439.17" y2="527.5" stroke="#427c4a" stroke-width="1"/>
<rect x="438.37" y="516.9" width="1.6" height="1.9" fill="#196422"/>
<line x1="441.65" y1="515.0" x2="441.65" y2="533.1" stroke="#984858" stroke-width="1"/>
<rect x="440.85" y="516.9" width="1.6" height="13.8" fill="#851826"/>
<line x1="444.12" y1="526.9" x2="444.12" y2="538.8" stroke="#984858" stroke-width="1"/>
<rect x="443.32" y="530.6" width="1.6" height="3.8" fill="#851826"/>
<line x1="446.59" y1="532.5" x2="446.59" y2="542.5" stroke="#984858" stroke-width="1"/>
<rect x="445.79" y="533.8" width="1.6" height="3.8" fill="#851826"/>
<line x1="449.07" y1="522.5" x2="449.07" y2="545.6" stroke="#427c4a" stroke-width="1"/>
<rect x="448.27" y="523.8" width="1.6" height="13.1" fill="#196422"/>
<line x1="451.54" y1="516.9" x2="451.54" y2="528.1" stroke="#984858" stroke-width="1"/>
<rect x="450.74" y="523.8" width="1.6" height="1.2" fill="#851826"/>
<line x1="454.01" y1="507.5" x2="454.01" y2="525.0" stroke="#427c4a" stroke-width="1"/>
<rect x="453.21" y="518.8" width="1.6" height="6.2" fill="#196422"/>
<line x1="456.49" y1="514.4" x2="456.49" y2="543.1" stroke="#984858" stroke-width="1"/>
<rect x="455.69" y="518.1" width="1.6" height="24.4" fill="#851826"/>
<line x1="458.96" y1="535.0" x2="458.96" y2="546.9" stroke="#984858" stroke-width="1"/>
<rect x="458.16" y="541.9" width="1.6" height="1.9" fill="#851826"/>
<line x1="461.43" y1="536.9" x2="461.43" y2="545.6" stroke="#427c4a" stroke-width="1"/>
<rect x="460.63" y="540.0" width="1.6" height="3.8" fill="#196422"/>
<line x1="463.90" y1="538.8" x2="463.90" y2="545.0" stroke="#984858" stroke-width="1"/>
<rect x="463.10" y="539.4" width="1.6" height="4.4" fill="#851826"/>
<line x1="466.38" y1="528.1" x2="466.38" y2="548.8" stroke="#427c4a" stroke-width="1"/>
<rect x="465.58" y="531.2" width="1.6" height="12.5" fill="#196422"/>
<line x1="468.85" y1="501.2" x2="468.85" y2="531.9" stroke="#427c4a" stroke-width="1"/>
<rect x="468.05" y="504.4" width="1.6" height="26.9" fill="#196422"/>
<line x1="471.32" y1="490.0" x2="471.32" y2="511.2" stroke="#984858" stroke-width="1"/>
<rect x="470.52" y="504.4" width="1.6" height="1.2" fill="#851826"/>
<line x1="473.80" y1="500.0" x2="473.80" y2="521.2" stroke="#984858" stroke-width="1"/>
<rect x="473.00" y="505.0" width="1.6" height="11.2" fill="#851826"/>
<line x1="476.27" y1="515.0" x2="476.27" y2="545.0" stroke="#984858" stroke-width="1"/>
<rect x="475.47" y="515.6" width="1.6" height="16.2" fill="#851826"/>
<line x1="478.74" y1="530.6" x2="478.74" y2="541.2" stroke="#984858" stroke-width="1"/>
<rect x="477.94" y="531.9" width="1.6" height="5.6" fill="#851826"/>
<line x1="481.22" y1="532.5" x2="481.22" y2="541.2" stroke="#427c4a" stroke-width="1"/>
<rect x="480.42" y="535.0" width="1.6" height="3.1" fill="#196422"/>
<line x1="483.69" y1="522.5" x2="483.69" y2="544.4" stroke="#984858" stroke-width="1"/>
<rect x="482.89" y="535.0" width="1.6" height="6.9" fill="#851826"/>
<line x1="486.16" y1="530.6" x2="486.16" y2="543.1" stroke="#427c4a" stroke-width="1"/>
<rect x="485.36" y="538.1" width="1.6" height="3.8" fill="#196422"/>
<line x1="488.63" y1="533.1" x2="488.63" y2="542.5" stroke="#427c4a" stroke-width="1"/>
<rect x="487.83" y="536.2" width="1.6" height="2.5" fill="#196422"/>
<line x1="491.11" y1="532.5" x2="491.11" y2="538.8" stroke="#427c4a" stroke-width="1"/>
<rect x="490.31" y="534.4" width="1.6" height="2.5" fill="#196422"/>
<line x1="493.58" y1="533.8" x2="493.58" y2="556.0" stroke="#984858" stroke-width="1"/>
<rect x="492.78" y="534.6" width="1.6" height="18.8" fill="#851826"/>
<line x1="496.05" y1="547.5" x2="496.05" y2="581.6" stroke="#984858" stroke-width="1"/>
<rect x="495.25" y="553.4" width="1.6" height="17.1" fill="#851826"/>
<line x1="498.53" y1="568.8" x2="498.53" y2="593.6" stroke="#984858" stroke-width="1"/>
<rect x="497.73" y="570.5" width="1.6" height="9.4" fill="#851826"/>
<line x1="501.00" y1="558.6" x2="501.00" y2="581.6" stroke="#427c4a" stroke-width="1"/>
<rect x="500.20" y="561.1" width="1.6" height="18.8" fill="#196422"/>
<line x1="503.47" y1="550.0" x2="503.47" y2="567.1" stroke="#427c4a" stroke-width="1"/>
<rect x="502.67" y="556.8" width="1.6" height="4.3" fill="#196422"/>
<line x1="505.95" y1="556.0" x2="505.95" y2="574.8" stroke="#984858" stroke-width="1"/>
<rect x="505.15" y="556.8" width="1.6" height="12.8" fill="#851826"/>
<line x1="508.42" y1="550.9" x2="508.42" y2="572.2" stroke="#427c4a" stroke-width="1"/>
<rect x="507.62" y="567.9" width="1.6" height="1.7" fill="#196422"/>
<line x1="510.89" y1="560.3" x2="510.89" y2="573.1" stroke="#427c4a" stroke-width="1"/>
<rect x="510.09" y="567.1" width="1.6" height="1.7" fill="#196422"/>
<line x1="513.37" y1="563.7" x2="513.37" y2="569.7" stroke="#427c4a" stroke-width="1"/>
<rect x="512.57" y="565.4" width="1.6" height="2.6" fill="#196422"/>
<line x1="515.84" y1="552.6" x2="515.84" y2="568.8" stroke="#427c4a" stroke-width="1"/>
<rect x="515.04" y="557.7" width="1.6" height="8.5" fill="#196422"/>
<line x1="518.31" y1="550.0" x2="518.31" y2="558.6" stroke="#427c4a" stroke-width="1"/>
<rect x="517.51" y="554.3" width="1.6" height="3.4" fill="#196422"/>
<line x1="520.78" y1="553.4" x2="520.78" y2="565.4" stroke="#984858" stroke-width="1"/>
<rect x="519.98" y="554.3" width="1.6" height="10.2" fill="#851826"/>
<line x1="523.26" y1="538.9" x2="523.26" y2="567.9" stroke="#427c4a" stroke-width="1"/>
<rect x="522.46" y="545.7" width="1.6" height="18.8" fill="#196422"/>
<line x1="525.73" y1="538.9" x2="525.73" y2="548.3" stroke="#427c4a" stroke-width="1"/>
<rect x="524.93" y="544.0" width="1.6" height="2.6" fill="#196422"/>
<line x1="528.20" y1="544.0" x2="528.20" y2="557.7" stroke="#984858" stroke-width="1"/>
<rect x="527.40" y="545.7" width="1.6" height="8.5" fill="#851826"/>
<line x1="530.68" y1="551.7" x2="530.68" y2="557.7" stroke="#427c4a" stroke-width="1"/>
<rect x="529.88" y="552.6" width="1.6" height="1.7" fill="#196422"/>
<line x1="533.15" y1="542.3" x2="533.15" y2="554.3" stroke="#427c4a" stroke-width="1"/>
<rect x="532.35" y="548.3" width="1.6" height="5.1" fill="#196422"/>
<line x1="535.62" y1="543.2" x2="535.62" y2="551.7" stroke="#984858" stroke-width="1"/>
<rect x="534.82" y="548.0" width="1.6" height="3.8" fill="#851826"/>
<line x1="538.09" y1="536.4" x2="538.09" y2="550.9" stroke="#427c4a" stroke-width="1"/>
<rect x="537.29" y="537.2" width="1.6" height="12.8" fill="#196422"/>
<line x1="540.57" y1="515.9" x2="540.57" y2="538.1" stroke="#427c4a" stroke-width="1"/>
<rect x="539.77" y="518.4" width="1.6" height="18.8" fill="#196422"/>
<line x1="543.04" y1="499.6" x2="543.04" y2="525.3" stroke="#427c4a" stroke-width="1"/>
<rect x="542.24" y="506.5" width="1.6" height="12.0" fill="#196422"/>
<line x1="545.51" y1="502.2" x2="545.51" y2="515.9" stroke="#984858" stroke-width="1"/>
<rect x="544.71" y="505.6" width="1.6" height="6.8" fill="#851826"/>
<line x1="547.99" y1="510.7" x2="547.99" y2="520.1" stroke="#984858" stroke-width="1"/>
<rect x="547.19" y="512.4" width="1.6" height="2.6" fill="#851826"/>
<line x1="550.46" y1="509.9" x2="550.46" y2="520.1" stroke="#984858" stroke-width="1"/>
<rect x="549.66" y="514.2" width="1.6" height="4.3" fill="#851826"/>
<line x1="552.93" y1="510.7" x2="552.93" y2="522.7" stroke="#427c4a" stroke-width="1"/>
<rect x="552.13" y="512.4" width="1.6" height="5.1" fill="#196422"/>
<line x1="555.41" y1="478.7" x2="555.41" y2="513.8" stroke="#427c4a" stroke-width="1"/>
<rect x="554.61" y="479.9" width="1.6" height="32.4" fill="#196422"/>
<line x1="557.88" y1="434.0" x2="557.88" y2="487.2" stroke="#427c4a" stroke-width="1"/>
<rect x="557.08" y="442.5" width="1.6" height="38.7" fill="#196422"/>
<line x1="560.35" y1="419.5" x2="560.35" y2="448.5" stroke="#427c4a" stroke-width="1"/>
<rect x="559.55" y="426.7" width="1.6" height="15.7" fill="#196422"/>
<line x1="562.82" y1="391.7" x2="562.82" y2="427.9" stroke="#427c4a" stroke-width="1"/>
<rect x="562.02" y="407.4" width="1.6" height="19.3" fill="#196422"/>
<line x1="565.30" y1="395.3" x2="565.30" y2="413.4" stroke="#427c4a" stroke-width="1"/>
<rect x="564.50" y="397.7" width="1.6" height="9.7" fill="#196422"/>
<line x1="567.77" y1="361.4" x2="567.77" y2="400.1" stroke="#427c4a" stroke-width="1"/>
<rect x="566.97" y="365.1" width="1.6" height="33.9" fill="#196422"/>
<line x1="570.24" y1="354.2" x2="570.24" y2="373.5" stroke="#427c4a" stroke-width="1"/>
<rect x="569.44" y="361.4" width="1.6" height="4.8" fill="#196422"/>
<line x1="572.72" y1="361.4" x2="572.72" y2="392.9" stroke="#984858" stroke-width="1"/>
<rect x="571.92" y="363.9" width="1.6" height="18.1" fill="#851826"/>
<line x1="575.19" y1="373.5" x2="575.19" y2="407.4" stroke="#984858" stroke-width="1"/>
<rect x="574.39" y="374.7" width="1.6" height="23.0" fill="#851826"/>
<line x1="577.66" y1="379.6" x2="577.66" y2="409.8" stroke="#427c4a" stroke-width="1"/>
<rect x="576.86" y="380.8" width="1.6" height="16.9" fill="#196422"/>
<line x1="580.14" y1="361.4" x2="580.14" y2="388.0" stroke="#427c4a" stroke-width="1"/>
<rect x="579.34" y="373.5" width="1.6" height="7.3" fill="#196422"/>
<line x1="582.61" y1="363.9" x2="582.61" y2="377.2" stroke="#427c4a" stroke-width="1"/>
<rect x="581.81" y="371.6" width="1.6" height="2.4" fill="#196422"/>
<line x1="585.08" y1="355.4" x2="585.08" y2="373.5" stroke="#427c4a" stroke-width="1"/>
<rect x="584.28" y="356.6" width="1.6" height="15.7" fill="#196422"/>
<line x1="587.55" y1="343.3" x2="587.55" y2="366.3" stroke="#984858" stroke-width="1"/>
<rect x="586.75" y="356.1" width="1.6" height="6.5" fill="#851826"/>
<line x1="590.03" y1="351.5" x2="590.03" y2="370.9" stroke="#427c4a" stroke-width="1"/>
<rect x="589.23" y="361.4" width="1.6" height="1.5" fill="#196422"/>
<line x1="592.50" y1="356.6" x2="592.50" y2="369.9" stroke="#427c4a" stroke-width="1"/>
<rect x="591.70" y="357.8" width="1.6" height="4.8" fill="#196422"/>
<line x1="594.97" y1="350.6" x2="594.97" y2="368.7" stroke="#984858" stroke-width="1"/>
<rect x="594.17" y="357.8" width="1.6" height="9.7" fill="#851826"/>
<line x1="597.45" y1="363.9" x2="597.45" y2="394.1" stroke="#984858" stroke-width="1"/>
<rect x="596.65" y="366.3" width="1.6" height="26.6" fill="#851826"/>
<line x1="599.92" y1="386.8" x2="599.92" y2="407.4" stroke="#984858" stroke-width="1"/>
<rect x="599.12" y="391.7" width="1.6" height="13.3" fill="#851826"/>
<line x1="602.39" y1="392.9" x2="602.39" y2="409.8" stroke="#427c4a" stroke-width="1"/>
<rect x="601.59" y="395.3" width="1.6" height="9.7" fill="#196422"/>
<line x1="604.87" y1="356.6" x2="604.87" y2="396.5" stroke="#427c4a" stroke-width="1"/>
<rect x="604.07" y="357.8" width="1.6" height="37.5" fill="#196422"/>
<line x1="607.34" y1="357.8" x2="607.34" y2="378.4" stroke="#984858" stroke-width="1"/>
<rect x="606.54" y="358.5" width="1.6" height="15.0" fill="#851826"/>
<line x1="609.81" y1="363.9" x2="609.81" y2="379.6" stroke="#427c4a" stroke-width="1"/>
<rect x="609.01" y="365.1" width="1.6" height="8.5" fill="#196422"/>
<line x1="612.28" y1="336.0" x2="612.28" y2="367.5" stroke="#427c4a" stroke-width="1"/>
<rect x="611.49" y="337.3" width="1.6" height="28.5" fill="#196422"/>
<line x1="614.76" y1="301.8" x2="614.76" y2="340.0" stroke="#427c4a" stroke-width="1"/>
<rect x="613.96" y="315.1" width="1.6" height="24.2" fill="#196422"/>
<line x1="617.23" y1="257.1" x2="617.23" y2="315.1" stroke="#427c4a" stroke-width="1"/>
<rect x="616.43" y="266.7" width="1.6" height="48.4" fill="#196422"/>
<line x1="619.70" y1="255.9" x2="619.70" y2="300.6" stroke="#984858" stroke-width="1"/>
<rect x="618.90" y="266.7" width="1.6" height="21.8" fill="#851826"/>
<line x1="622.18" y1="274.0" x2="622.18" y2="307.8" stroke="#984858" stroke-width="1"/>
<rect x="621.38" y="287.3" width="1.6" height="1.7" fill="#851826"/>
<line x1="624.65" y1="225.6" x2="624.65" y2="290.9" stroke="#427c4a" stroke-width="1"/>
<rect x="623.85" y="231.7" width="1.6" height="58.0" fill="#196422"/>
<line x1="627.12" y1="209.9" x2="627.12" y2="232.9" stroke="#427c4a" stroke-width="1"/>
<rect x="626.32" y="225.6" width="1.6" height="7.3" fill="#196422"/>
<line x1="629.60" y1="205.1" x2="629.60" y2="237.7" stroke="#984858" stroke-width="1"/>
<rect x="628.80" y="225.6" width="1.6" height="2.4" fill="#851826"/>
<line x1="632.07" y1="211.1" x2="632.07" y2="249.8" stroke="#984858" stroke-width="1"/>
<rect x="631.27" y="226.8" width="1.6" height="14.5" fill="#851826"/>
<line x1="634.54" y1="231.7" x2="634.54" y2="252.2" stroke="#984858" stroke-width="1"/>
<rect x="633.74" y="240.1" width="1.6" height="4.8" fill="#851826"/>
<line x1="637.01" y1="222.0" x2="637.01" y2="247.4" stroke="#427c4a" stroke-width="1"/>
<rect x="636.22" y="234.1" width="1.6" height="9.7" fill="#196422"/>
<line x1="639.49" y1="231.7" x2="639.49" y2="261.9" stroke="#984858" stroke-width="1"/>
<rect x="638.69" y="234.1" width="1.6" height="21.8" fill="#851826"/>
<line x1="641.96" y1="242.6" x2="641.96" y2="277.6" stroke="#984858" stroke-width="1"/>
<rect x="641.16" y="255.9" width="1.6" height="21.8" fill="#851826"/>
<line x1="644.43" y1="231.7" x2="644.43" y2="277.6" stroke="#427c4a" stroke-width="1"/>
<rect x="643.63" y="237.7" width="1.6" height="39.9" fill="#196422"/>
<line x1="646.91" y1="231.7" x2="646.91" y2="247.4" stroke="#984858" stroke-width="1"/>
<rect x="646.11" y="237.7" width="1.6" height="8.5" fill="#851826"/>
<line x1="649.38" y1="155.4" x2="649.38" y2="246.2" stroke="#427c4a" stroke-width="1"/>
<rect x="648.58" y="165.1" width="1.6" height="80.3" fill="#196422"/>
<line x1="651.85" y1="159.5" x2="651.85" y2="186.2" stroke="#427c4a" stroke-width="1"/>
<rect x="651.05" y="163.5" width="1.6" height="2.4" fill="#196422"/>
<line x1="654.33" y1="123.0" x2="654.33" y2="168.4" stroke="#427c4a" stroke-width="1"/>
<rect x="653.53" y="148.9" width="1.6" height="17.8" fill="#196422"/>
<line x1="656.80" y1="144.1" x2="656.80" y2="202.4" stroke="#984858" stroke-width="1"/>
<rect x="656.00" y="148.1" width="1.6" height="51.9" fill="#851826"/>
<line x1="659.27" y1="161.9" x2="659.27" y2="202.4" stroke="#427c4a" stroke-width="1"/>
<rect x="658.47" y="169.2" width="1.6" height="30.8" fill="#196422"/>
<line x1="661.74" y1="158.6" x2="661.74" y2="186.2" stroke="#984858" stroke-width="1"/>
<rect x="660.94" y="169.2" width="1.6" height="13.8" fill="#851826"/>
<line x1="664.22" y1="174.9" x2="664.22" y2="202.4" stroke="#984858" stroke-width="1"/>
<rect x="663.42" y="183.0" width="1.6" height="9.7" fill="#851826"/>
<line x1="666.69" y1="184.6" x2="666.69" y2="208.9" stroke="#427c4a" stroke-width="1"/>
<rect x="665.89" y="188.6" width="1.6" height="4.1" fill="#196422"/>
<line x1="669.16" y1="178.9" x2="669.16" y2="202.4" stroke="#984858" stroke-width="1"/>
<rect x="668.36" y="188.6" width="1.6" height="1.6" fill="#851826"/>
<line x1="671.64" y1="161.1" x2="671.64" y2="190.3" stroke="#427c4a" stroke-width="1"/>
<rect x="670.84" y="180.5" width="1.6" height="9.7" fill="#196422"/>
<line x1="674.11" y1="173.2" x2="674.11" y2="210.5" stroke="#984858" stroke-width="1"/>
<rect x="673.31" y="181.3" width="1.6" height="23.5" fill="#851826"/>
<line x1="676.58" y1="194.3" x2="676.58" y2="225.9" stroke="#984858" stroke-width="1"/>
<rect x="675.78" y="204.9" width="1.6" height="13.8" fill="#851826"/>
<line x1="679.06" y1="194.3" x2="679.06" y2="225.1" stroke="#427c4a" stroke-width="1"/>
<rect x="678.26" y="196.8" width="1.6" height="21.9" fill="#196422"/>
<line x1="681.53" y1="194.3" x2="681.53" y2="224.3" stroke="#984858" stroke-width="1"/>
<rect x="680.73" y="198.4" width="1.6" height="21.1" fill="#851826"/>
<line x1="684.00" y1="200.2" x2="684.00" y2="224.4" stroke="#427c4a" stroke-width="1"/>
<rect x="683.20" y="214.7" width="1.6" height="2.4" fill="#196422"/>
<line x1="686.47" y1="214.7" x2="686.47" y2="225.6" stroke="#984858" stroke-width="1"/>
<rect x="685.67" y="215.9" width="1.6" height="4.8" fill="#851826"/>
<line x1="688.95" y1="217.2" x2="688.95" y2="226.8" stroke="#984858" stroke-width="1"/>
<rect x="688.15" y="218.4" width="1.6" height="3.6" fill="#851826"/>
<line x1="691.42" y1="217.2" x2="691.42" y2="231.7" stroke="#984858" stroke-width="1"/>
<rect x="690.62" y="219.6" width="1.6" height="8.5" fill="#851826"/>
<line x1="693.89" y1="214.7" x2="693.89" y2="230.5" stroke="#427c4a" stroke-width="1"/>
<rect x="693.09" y="223.2" width="1.6" height="4.8" fill="#196422"/>
<line x1="696.37" y1="208.7" x2="696.37" y2="236.5" stroke="#984858" stroke-width="1"/>
<rect x="695.57" y="222.0" width="1.6" height="10.9" fill="#851826"/>
<line x1="698.84" y1="217.2" x2="698.84" y2="235.3" stroke="#427c4a" stroke-width="1"/>
<rect x="698.04" y="223.2" width="1.6" height="10.2" fill="#196422"/>
<line x1="701.31" y1="175.7" x2="701.31" y2="226.8" stroke="#427c4a" stroke-width="1"/>
<rect x="700.51" y="179.7" width="1.6" height="45.7" fill="#196422"/>
<line x1="703.79" y1="170.0" x2="703.79" y2="194.3" stroke="#984858" stroke-width="1"/>
<rect x="702.99" y="179.7" width="1.6" height="8.9" fill="#851826"/>
<line x1="706.26" y1="183.8" x2="706.26" y2="200.0" stroke="#984858" stroke-width="1"/>
<rect x="705.46" y="187.8" width="1.6" height="8.1" fill="#851826"/>
<line x1="708.73" y1="187.8" x2="708.73" y2="217.0" stroke="#984858" stroke-width="1"/>
<rect x="707.93" y="194.3" width="1.6" height="17.0" fill="#851826"/>
<line x1="711.20" y1="206.3" x2="711.20" y2="228.0" stroke="#984858" stroke-width="1"/>
<rect x="710.40" y="208.7" width="1.6" height="16.9" fill="#851826"/>
<line x1="713.68" y1="205.1" x2="713.68" y2="231.7" stroke="#427c4a" stroke-width="1"/>
<rect x="712.88" y="206.3" width="1.6" height="19.3" fill="#196422"/>
<line x1="716.15" y1="199.0" x2="716.15" y2="218.4" stroke="#984858" stroke-width="1"/>
<rect x="715.35" y="206.3" width="1.6" height="6.0" fill="#851826"/>
<line x1="718.62" y1="206.3" x2="718.62" y2="226.8" stroke="#984858" stroke-width="1"/>
<rect x="717.82" y="211.1" width="1.6" height="12.1" fill="#851826"/>
<line x1="721.10" y1="217.2" x2="721.10" y2="225.6" stroke="#427c4a" stroke-width="1"/>
<rect x="720.30" y="220.8" width="1.6" height="2.4" fill="#196422"/>
<line x1="723.57" y1="215.9" x2="723.57" y2="225.6" stroke="#984858" stroke-width="1"/>
<rect x="722.77" y="220.3" width="1.6" height="3.4" fill="#851826"/>
<line x1="726.04" y1="222.0" x2="726.04" y2="272.8" stroke="#984858" stroke-width="1"/>
<rect x="725.24" y="223.2" width="1.6" height="29.0" fill="#851826"/>
<line x1="728.52" y1="249.8" x2="728.52" y2="260.7" stroke="#984858" stroke-width="1"/>
<rect x="727.72" y="251.7" width="1.6" height="2.9" fill="#851826"/>
<line x1="730.99" y1="249.4" x2="730.99" y2="269.9" stroke="#984858" stroke-width="1"/>
<rect x="730.19" y="252.0" width="1.6" height="16.6" fill="#851826"/>
<line x1="733.46" y1="267.4" x2="733.46" y2="298.1" stroke="#984858" stroke-width="1"/>
<rect x="732.66" y="268.6" width="1.6" height="20.5" fill="#851826"/>
<line x1="735.93" y1="262.2" x2="735.93" y2="290.4" stroke="#427c4a" stroke-width="1"/>
<rect x="735.13" y="263.5" width="1.6" height="25.6" fill="#196422"/>
<line x1="738.41" y1="261.0" x2="738.41" y2="269.9" stroke="#984858" stroke-width="1"/>
<rect x="737.61" y="262.2" width="1.6" height="3.8" fill="#851826"/>
<line x1="740.88" y1="258.4" x2="740.88" y2="272.5" stroke="#427c4a" stroke-width="1"/>
<rect x="740.08" y="261.0" width="1.6" height="5.1" fill="#196422"/>
<line x1="743.35" y1="257.1" x2="743.35" y2="271.2" stroke="#427c4a" stroke-width="1"/>
<rect x="742.55" y="259.7" width="1.6" height="2.6" fill="#196422"/>
<line x1="745.83" y1="258.4" x2="745.83" y2="276.3" stroke="#984858" stroke-width="1"/>
<rect x="745.03" y="259.7" width="1.6" height="12.8" fill="#851826"/>
<line x1="748.30" y1="262.2" x2="748.30" y2="277.6" stroke="#427c4a" stroke-width="1"/>
<rect x="747.50" y="264.8" width="1.6" height="9.0" fill="#196422"/>
<line x1="750.77" y1="249.4" x2="750.77" y2="269.9" stroke="#427c4a" stroke-width="1"/>
<rect x="749.97" y="253.3" width="1.6" height="12.8" fill="#196422"/>
<line x1="753.25" y1="239.2" x2="753.25" y2="267.4" stroke="#984858" stroke-width="1"/>
<rect x="752.45" y="253.3" width="1.6" height="7.7" fill="#851826"/>
<line x1="755.72" y1="257.1" x2="755.72" y2="269.9" stroke="#984858" stroke-width="1"/>
<rect x="754.92" y="259.7" width="1.6" height="6.4" fill="#851826"/>
<line x1="758.19" y1="262.2" x2="758.19" y2="269.9" stroke="#984858" stroke-width="1"/>
<rect x="757.39" y="264.8" width="1.6" height="2.6" fill="#851826"/>
<line x1="760.66" y1="241.8" x2="760.66" y2="269.9" stroke="#427c4a" stroke-width="1"/>
<rect x="759.87" y="245.6" width="1.6" height="21.8" fill="#196422"/>
<line x1="763.14" y1="234.1" x2="763.14" y2="267.4" stroke="#984858" stroke-width="1"/>
<rect x="762.34" y="245.6" width="1.6" height="17.9" fill="#851826"/>
<line x1="765.61" y1="262.2" x2="765.61" y2="272.5" stroke="#427c4a" stroke-width="1"/>
<rect x="764.81" y="263.5" width="1.6" height="2.6" fill="#196422"/>
<line x1="768.08" y1="263.5" x2="768.08" y2="291.7" stroke="#984858" stroke-width="1"/>
<rect x="767.28" y="264.8" width="1.6" height="16.6" fill="#851826"/>
<line x1="770.56" y1="277.6" x2="770.56" y2="367.2" stroke="#984858" stroke-width="1"/>
<rect x="769.76" y="281.4" width="1.6" height="42.2" fill="#851826"/>
<line x1="773.03" y1="309.6" x2="773.03" y2="339.0" stroke="#427c4a" stroke-width="1"/>
<rect x="772.23" y="322.4" width="1.6" height="3.8" fill="#196422"/>
<line x1="775.50" y1="276.3" x2="775.50" y2="328.8" stroke="#427c4a" stroke-width="1"/>
<rect x="774.70" y="277.6" width="1.6" height="48.6" fill="#196422"/>
<line x1="777.98" y1="257.1" x2="777.98" y2="278.9" stroke="#427c4a" stroke-width="1"/>
<rect x="777.18" y="261.0" width="1.6" height="16.6" fill="#196422"/>
<line x1="780.45" y1="259.7" x2="780.45" y2="294.2" stroke="#984858" stroke-width="1"/>
<rect x="779.65" y="261.0" width="1.6" height="9.0" fill="#851826"/>
<line x1="782.92" y1="254.6" x2="782.92" y2="280.2" stroke="#984858" stroke-width="1"/>
<rect x="782.12" y="268.6" width="1.6" height="2.6" fill="#851826"/>
<line x1="785.39" y1="258.4" x2="785.39" y2="289.1" stroke="#984858" stroke-width="1"/>
<rect x="784.60" y="269.9" width="1.6" height="10.2" fill="#851826"/>
<line x1="787.87" y1="271.2" x2="787.87" y2="294.2" stroke="#427c4a" stroke-width="1"/>
<rect x="787.07" y="273.8" width="1.6" height="6.4" fill="#196422"/>
<line x1="790.34" y1="266.1" x2="790.34" y2="280.2" stroke="#427c4a" stroke-width="1"/>
<rect x="789.54" y="267.4" width="1.6" height="7.7" fill="#196422"/>
<line x1="792.81" y1="259.7" x2="792.81" y2="275.0" stroke="#427c4a" stroke-width="1"/>
<rect x="792.01" y="264.8" width="1.6" height="9.0" fill="#196422"/>
<line x1="795.29" y1="264.8" x2="795.29" y2="287.8" stroke="#984858" stroke-width="1"/>
<rect x="794.49" y="266.1" width="1.6" height="14.1" fill="#851826"/>
<line x1="797.76" y1="277.6" x2="797.76" y2="293.0" stroke="#984858" stroke-width="1"/>
<rect x="796.96" y="280.2" width="1.6" height="5.1" fill="#851826"/>
<line x1="800.23" y1="284.0" x2="800.23" y2="307.0" stroke="#984858" stroke-width="1"/>
<rect x="799.43" y="285.3" width="1.6" height="9.0" fill="#851826"/>
<line x1="802.71" y1="291.7" x2="802.71" y2="303.2" stroke="#984858" stroke-width="1"/>
<rect x="801.91" y="293.0" width="1.6" height="9.0" fill="#851826"/>
<line x1="805.18" y1="289.1" x2="805.18" y2="303.2" stroke="#427c4a" stroke-width="1"/>
<rect x="804.38" y="293.0" width="1.6" height="9.0" fill="#196422"/>
<line x1="807.65" y1="281.4" x2="807.65" y2="295.5" stroke="#427c4a" stroke-width="1"/>
<rect x="806.85" y="290.4" width="1.6" height="3.8" fill="#196422"/>
<line x1="810.12" y1="269.9" x2="810.12" y2="293.0" stroke="#427c4a" stroke-width="1"/>
<rect x="809.32" y="272.5" width="1.6" height="20.5" fill="#196422"/>
<line x1="812.60" y1="258.4" x2="812.60" y2="282.7" stroke="#984858" stroke-width="1"/>
<rect x="811.80" y="272.5" width="1.6" height="7.7" fill="#851826"/>
<line x1="815.07" y1="273.8" x2="815.07" y2="299.4" stroke="#984858" stroke-width="1"/>
<rect x="814.27" y="277.6" width="1.6" height="19.2" fill="#851826"/>
<line x1="817.54" y1="281.4" x2="817.54" y2="299.4" stroke="#427c4a" stroke-width="1"/>
<rect x="816.74" y="290.4" width="1.6" height="6.4" fill="#196422"/>
<line x1="820.02" y1="281.4" x2="820.02" y2="309.6" stroke="#984858" stroke-width="1"/>
<rect x="819.22" y="290.4" width="1.6" height="9.0" fill="#851826"/>
<line x1="822.49" y1="295.5" x2="822.49" y2="304.5" stroke="#427c4a" stroke-width="1"/>
<rect x="821.69" y="296.8" width="1.6" height="3.1" fill="#196422"/>
<line x1="824.96" y1="293.0" x2="824.96" y2="304.5" stroke="#427c4a" stroke-width="1"/>
<rect x="824.16" y="294.8" width="1.6" height="3.3" fill="#196422"/>
<line x1="827.44" y1="293.0" x2="827.44" y2="304.5" stroke="#427c4a" stroke-width="1"/>
<rect x="826.64" y="293.7" width="1.6" height="3.1" fill="#196422"/>
<line x1="829.91" y1="292.2" x2="829.91" y2="332.5" stroke="#984858" stroke-width="1"/>
<rect x="829.11" y="293.5" width="1.6" height="33.9" fill="#851826"/>
<line x1="832.38" y1="317.2" x2="832.38" y2="388.9" stroke="#984858" stroke-width="1"/>
<rect x="831.58" y="327.4" width="1.6" height="30.1" fill="#851826"/>
<line x1="834.85" y1="337.0" x2="834.85" y2="366.5" stroke="#427c4a" stroke-width="1"/>
<rect x="834.05" y="345.3" width="1.6" height="12.2" fill="#196422"/>
<line x1="837.33" y1="339.6" x2="837.33" y2="360.7" stroke="#984858" stroke-width="1"/>
<rect x="836.53" y="345.3" width="1.6" height="5.8" fill="#851826"/>
<line x1="839.80" y1="333.2" x2="839.80" y2="365.2" stroke="#427c4a" stroke-width="1"/>
<rect x="839.00" y="338.9" width="1.6" height="11.5" fill="#196422"/>
<line x1="842.27" y1="324.2" x2="842.27" y2="343.4" stroke="#984858" stroke-width="1"/>
<rect x="841.47" y="338.3" width="1.6" height="1.3" fill="#851826"/>
<line x1="844.75" y1="314.0" x2="844.75" y2="341.5" stroke="#427c4a" stroke-width="1"/>
<rect x="843.95" y="317.8" width="1.6" height="21.8" fill="#196422"/>
<line x1="847.22" y1="314.0" x2="847.22" y2="334.4" stroke="#984858" stroke-width="1"/>
<rect x="846.42" y="317.8" width="1.6" height="12.8" fill="#851826"/>
<line x1="849.69" y1="319.1" x2="849.69" y2="341.5" stroke="#984858" stroke-width="1"/>
<rect x="848.89" y="330.6" width="1.6" height="10.2" fill="#851826"/>
<line x1="852.17" y1="320.4" x2="852.17" y2="340.9" stroke="#427c4a" stroke-width="1"/>
<rect x="851.37" y="331.9" width="1.6" height="9.0" fill="#196422"/>
<line x1="854.64" y1="315.2" x2="854.64" y2="362.6" stroke="#984858" stroke-width="1"/>
<rect x="853.84" y="331.2" width="1.6" height="25.6" fill="#851826"/>
<line x1="857.11" y1="331.2" x2="857.11" y2="363.3" stroke="#427c4a" stroke-width="1"/>
<rect x="856.31" y="346.0" width="1.6" height="10.9" fill="#196422"/>
<line x1="859.58" y1="332.5" x2="859.58" y2="349.8" stroke="#427c4a" stroke-width="1"/>
<rect x="858.78" y="341.5" width="1.6" height="5.1" fill="#196422"/>
<line x1="862.06" y1="330.0" x2="862.06" y2="360.7" stroke="#984858" stroke-width="1"/>
<rect x="861.26" y="341.5" width="1.6" height="6.4" fill="#851826"/>
<line x1="864.53" y1="331.9" x2="864.53" y2="357.5" stroke="#427c4a" stroke-width="1"/>
<rect x="863.73" y="346.6" width="1.6" height="1.3" fill="#196422"/>
<line x1="867.00" y1="325.5" x2="867.00" y2="353.0" stroke="#427c4a" stroke-width="1"/>
<rect x="866.20" y="325.5" width="1.6" height="21.8" fill="#196422"/>
<line x1="869.48" y1="324.2" x2="869.48" y2="358.8" stroke="#984858" stroke-width="1"/>
<rect x="868.68" y="331.2" width="1.6" height="12.2" fill="#851826"/>
<line x1="871.95" y1="342.1" x2="871.95" y2="358.1" stroke="#984858" stroke-width="1"/>
<rect x="871.15" y="342.8" width="1.6" height="7.7" fill="#851826"/>
<line x1="874.42" y1="344.1" x2="874.42" y2="362.6" stroke="#984858" stroke-width="1"/>
<rect x="873.62" y="349.8" width="1.6" height="5.8" fill="#851826"/>
<line x1="876.90" y1="347.3" x2="876.90" y2="358.8" stroke="#427c4a" stroke-width="1"/>
<rect x="876.10" y="350.5" width="1.6" height="5.1" fill="#196422"/>
<line x1="879.37" y1="347.3" x2="879.37" y2="362.0" stroke="#984858" stroke-width="1"/>
<rect x="878.57" y="350.5" width="1.6" height="10.2" fill="#851826"/>
<line x1="881.84" y1="331.2" x2="881.84" y2="363.9" stroke="#427c4a" stroke-width="1"/>
<rect x="881.04" y="335.1" width="1.6" height="25.0" fill="#196422"/>
<line x1="884.31" y1="322.9" x2="884.31" y2="344.7" stroke="#427c4a" stroke-width="1"/>
<rect x="883.51" y="324.8" width="1.6" height="10.9" fill="#196422"/>
<line x1="886.79" y1="326.8" x2="886.79" y2="337.0" stroke="#984858" stroke-width="1"/>
<rect x="885.99" y="327.4" width="1.6" height="7.7" fill="#851826"/>
<line x1="889.26" y1="330.0" x2="889.26" y2="347.3" stroke="#984858" stroke-width="1"/>
<rect x="888.46" y="335.1" width="1.6" height="9.6" fill="#851826"/>
<line x1="891.73" y1="331.9" x2="891.73" y2="344.7" stroke="#427c4a" stroke-width="1"/>
<rect x="890.93" y="337.0" width="1.6" height="7.7" fill="#196422"/>
<line x1="894.21" y1="333.8" x2="894.21" y2="348.5" stroke="#984858" stroke-width="1"/>
<rect x="893.41" y="337.0" width="1.6" height="9.0" fill="#851826"/>
<line x1="896.68" y1="338.9" x2="896.68" y2="346.6" stroke="#427c4a" stroke-width="1"/>
<rect x="895.88" y="341.5" width="1.6" height="4.5" fill="#196422"/>
<line x1="899.15" y1="337.7" x2="899.15" y2="353.7" stroke="#984858" stroke-width="1"/>
<rect x="898.35" y="341.5" width="1.6" height="7.7" fill="#851826"/>
<rect x="5.62" y="582.4" width="1.55" height="70.0" fill="#000000" fill-opacity="0.56"/>
<rect x="8.09" y="605.1" width="1.55" height="47.3" fill="#000000" fill-opacity="0.56"/>
<rect x="10.57" y="640.1" width="1.55" height="12.3" fill="#646771" fill-opacity="0.5"/>
<rect x="13.04" y="641.1" width="1.55" height="11.3" fill="#646771" fill-opacity="0.5"/>
<rect x="15.51" y="611.6" width="1.55" height="40.8" fill="#646771" fill-opacity="0.5"/>
<rect x="17.98" y="618.4" width="1.55" height="34.0" fill="#646771" fill-opacity="0.5"/>
<rect x="20.46" y="636.1" width="1.55" height="16.3" fill="#000000" fill-opacity="0.56"/>
<rect x="22.93" y="626.6" width="1.55" height="25.8" fill="#000000" fill-opacity="0.56"/>
<rect x="25.40" y="634.4" width="1.55" height="18.0" fill="#646771" fill-opacity="0.5"/>
<rect x="27.88" y="640.1" width="1.55" height="12.3" fill="#646771" fill-opacity="0.5"/>
<rect x="30.35" y="638.1" width="1.55" height="14.3" fill="#646771" fill-opacity="0.5"/>
<rect x="32.82" y="627.1" width="1.55" height="25.3" fill="#646771" fill-opacity="0.5"/>
<rect x="35.30" y="634.4" width="1.55" height="18.0" fill="#646771" fill-opacity="0.5"/>
<rect x="37.77" y="629.1" width="1.55" height="23.3" fill="#646771" fill-opacity="0.5"/>
<rect x="40.24" y="615.1" width="1.55" height="37.3" fill="#646771" fill-opacity="0.5"/>
<rect x="42.71" y="606.8" width="1.55" height="45.6" fill="#000000" fill-opacity="0.56"/>
<rect x="45.19" y="634.9" width="1.55" height="17.5" fill="#646771" fill-opacity="0.5"/>
<rect x="47.66" y="640.1" width="1.55" height="12.3" fill="#000000" fill-opacity="0.56"/>
<rect x="50.13" y="633.9" width="1.55" height="18.5" fill="#000000" fill-opacity="0.56"/>
<rect x="52.61" y="635.4" width="1.55" height="17.0" fill="#646771" fill-opacity="0.5"/>
<rect x="55.08" y="644.1" width="1.55" height="8.3" fill="#646771" fill-opacity="0.5"/>
<rect x="57.55" y="643.1" width="1.55" height="9.3" fill="#646771" fill-opacity="0.5"/>
<rect x="60.03" y="641.1" width="1.55" height="11.3" fill="#000000" fill-opacity="0.56"/>
<rect x="62.50" y="647.4" width="1.55" height="5.0" fill="#000000" fill-opacity="0.56"/>
<rect x="64.97" y="645.4" width="1.55" height="7.0" fill="#000000" fill-opacity="0.56"/>
<rect x="67.44" y="638.1" width="1.55" height="14.3" fill="#000000" fill-opacity="0.56"/>
<rect x="69.92" y="642.1" width="1.55" height="10.3" fill="#646771" fill-opacity="0.5"/>
<rect x="72.39" y="646.1" width="1.55" height="6.3" fill="#646771" fill-opacity="0.5"/>
<rect x="74.86" y="642.1" width="1.55" height="10.3" fill="#000000" fill-opacity="0.56"/>
<rect x="77.34" y="639.8" width="1.55" height="12.6" fill="#000000" fill-opacity="0.56"/>
<rect x="79.81" y="643.9" width="1.55" height="8.5" fill="#000000" fill-opacity="0.56"/>
<rect x="82.28" y="647.1" width="1.55" height="5.3" fill="#646771" fill-opacity="0.5"/>
<rect x="84.76" y="641.4" width="1.55" height="11.0" fill="#646771" fill-opacity="0.5"/>
<rect x="87.23" y="632.1" width="1.55" height="20.3" fill="#646771" fill-opacity="0.5"/>
<rect x="89.70" y="637.6" width="1.55" height="14.8" fill="#000000" fill-opacity="0.56"/>
<rect x="92.17" y="638.9" width="1.55" height="13.5" fill="#646771" fill-opacity="0.5"/>
<rect x="94.65" y="643.9" width="1.55" height="8.5" fill="#646771" fill-opacity="0.5"/>
<rect x="97.12" y="647.1" width="1.55" height="5.3" fill="#000000" fill-opacity="0.56"/>
<rect x="99.59" y="648.6" width="1.55" height="3.8" fill="#646771" fill-opacity="0.5"/>
<rect x="102.07" y="627.4" width="1.55" height="25.0" fill="#646771" fill-opacity="0.5"/>
<rect x="104.54" y="639.4" width="1.55" height="13.0" fill="#000000" fill-opacity="0.56"/>
<rect x="107.01" y="636.4" width="1.55" height="16.0" fill="#000000" fill-opacity="0.56"/>
<rect x="109.49" y="639.1" width="1.55" height="13.3" fill="#646771" fill-opacity="0.5"/>
<rect x="111.96" y="636.4" width="1.55" height="16.0" fill="#000000" fill-opacity="0.56"/>
<rect x="114.43" y="627.4" width="1.55" height="25.0" fill="#646771" fill-opacity="0.5"/>
<rect x="116.91" y="589.4" width="1.55" height="63.0" fill="#000000" fill-opacity="0.56"/>
<rect x="119.38" y="605.9" width="1.55" height="46.5" fill="#000000" fill-opacity="0.56"/>
<rect x="121.85" y="633.4" width="1.55" height="19.0" fill="#646771" fill-opacity="0.5"/>
<rect x="124.32" y="642.6" width="1.55" height="9.8" fill="#646771" fill-opacity="0.5"/>
<rect x="126.80" y="628.4" width="1.55" height="24.0" fill="#000000" fill-opacity="0.56"/>
<rect x="129.27" y="635.4" width="1.55" height="17.0" fill="#646771" fill-opacity="0.5"/>
<rect x="131.74" y="645.4" width="1.55" height="7.0" fill="#000000" fill-opacity="0.56"/>
<rect x="134.22" y="644.9" width="1.55" height="7.5" fill="#646771" fill-opacity="0.5"/>
<rect x="136.69" y="630.4" width="1.55" height="22.0" fill="#646771" fill-opacity="0.5"/>
<rect x="139.16" y="637.6" width="1.55" height="14.8" fill="#646771" fill-opacity="0.5"/>
<rect x="141.63" y="637.6" width="1.55" height="14.8" fill="#646771" fill-opacity="0.5"/>
<rect x="144.11" y="635.4" width="1.55" height="17.0" fill="#000000" fill-opacity="0.56"/>
<rect x="146.58" y="626.1" width="1.55" height="26.3" fill="#000000" fill-opacity="0.56"/>
<rect x="149.05" y="639.4" width="1.55" height="13.0" fill="#646771" fill-opacity="0.5"/>
<rect x="151.53" y="622.4" width="1.55" height="30.0" fill="#646771" fill-opacity="0.5"/>
<rect x="154.00" y="509.4" width="1.55" height="143.0" fill="#646771" fill-opacity="0.5"/>
<rect x="156.47" y="612.4" width="1.55" height="40.0" fill="#646771" fill-opacity="0.5"/>
<rect x="158.95" y="621.4" width="1.55" height="31.0" fill="#000000" fill-opacity="0.56"/>
<rect x="161.42" y="626.1" width="1.55" height="26.3" fill="#646771" fill-opacity="0.5"/>
<rect x="163.89" y="631.1" width="1.55" height="21.3" fill="#646771" fill-opacity="0.5"/>
<rect x="166.37" y="633.4" width="1.55" height="19.0" fill="#000000" fill-opacity="0.56"/>
<rect x="168.84" y="634.4" width="1.55" height="18.0" fill="#646771" fill-opacity="0.5"/>
<rect x="171.31" y="638.4" width="1.55" height="14.0" fill="#000000" fill-opacity="0.56"/>
<rect x="173.78" y="638.4" width="1.55" height="14.0" fill="#646771" fill-opacity="0.5"/>
<rect x="176.26" y="632.4" width="1.55" height="20.0" fill="#000000" fill-opacity="0.56"/>
<rect x="178.73" y="640.4" width="1.55" height="12.0" fill="#646771" fill-opacity="0.5"/>
<rect x="181.20" y="643.9" width="1.55" height="8.5" fill="#000000" fill-opacity="0.56"/>
<rect x="183.68" y="645.4" width="1.55" height="7.0" fill="#646771" fill-opacity="0.5"/>
<rect x="186.15" y="647.6" width="1.55" height="4.8" fill="#000000" fill-opacity="0.56"/>
<rect x="188.62" y="630.4" width="1.55" height="22.0" fill="#000000" fill-opacity="0.56"/>
<rect x="191.09" y="638.9" width="1.55" height="13.5" fill="#646771" fill-opacity="0.5"/>
<rect x="193.57" y="645.1" width="1.55" height="7.3" fill="#000000" fill-opacity="0.56"/>
<rect x="196.04" y="643.4" width="1.55" height="9.0" fill="#646771" fill-opacity="0.5"/>
<rect x="198.51" y="621.4" width="1.55" height="31.0" fill="#646771" fill-opacity="0.5"/>
<rect x="200.99" y="625.4" width="1.55" height="27.0" fill="#000000" fill-opacity="0.56"/>
<rect x="203.46" y="626.1" width="1.55" height="26.3" fill="#000000" fill-opacity="0.56"/>
<rect x="205.93" y="616.8" width="1.55" height="35.6" fill="#646771" fill-opacity="0.5"/>
<rect x="208.41" y="611.4" width="1.55" height="41.0" fill="#000000" fill-opacity="0.56"/>
<rect x="210.88" y="619.4" width="1.55" height="33.0" fill="#646771" fill-opacity="0.5"/>
<rect x="213.35" y="622.4" width="1.55" height="30.0" fill="#646771" fill-opacity="0.5"/>
<rect x="215.82" y="605.4" width="1.55" height="47.0" fill="#646771" fill-opacity="0.5"/>
<rect x="218.30" y="620.4" width="1.55" height="32.0" fill="#646771" fill-opacity="0.5"/>
<rect x="220.77" y="570.4" width="1.55" height="82.0" fill="#000000" fill-opacity="0.56"/>
<rect x="223.24" y="605.9" width="1.55" height="46.5" fill="#646771" fill-opacity="0.5"/>
<rect x="225.72" y="616.4" width="1.55" height="36.0" fill="#646771" fill-opacity="0.5"/>
<rect x="228.19" y="632.9" width="1.55" height="19.5" fill="#646771" fill-opacity="0.5"/>
<rect x="230.66" y="638.9" width="1.55" height="13.5" fill="#646771" fill-opacity="0.5"/>
<rect x="233.14" y="629.4" width="1.55" height="23.0" fill="#000000" fill-opacity="0.56"/>
<rect x="235.61" y="639.4" width="1.55" height="13.0" fill="#000000" fill-opacity="0.56"/>
<rect x="238.08" y="633.9" width="1.55" height="18.5" fill="#646771" fill-opacity="0.5"/>
<rect x="240.55" y="606.9" width="1.55" height="45.5" fill="#646771" fill-opacity="0.5"/>
<rect x="243.03" y="615.6" width="1.55" height="36.8" fill="#646771" fill-opacity="0.5"/>
<rect x="245.50" y="621.9" width="1.55" height="30.5" fill="#646771" fill-opacity="0.5"/>
<rect x="247.97" y="638.9" width="1.55" height="13.5" fill="#000000" fill-opacity="0.56"/>
<rect x="250.45" y="642.4" width="1.55" height="10.0" fill="#646771" fill-opacity="0.5"/>
<rect x="252.92" y="643.4" width="1.55" height="9.0" fill="#000000" fill-opacity="0.56"/>
<rect x="255.39" y="634.4" width="1.55" height="18.0" fill="#646771" fill-opacity="0.5"/>
<rect x="257.87" y="637.1" width="1.55" height="15.3" fill="#000000" fill-opacity="0.56"/>
<rect x="260.34" y="643.9" width="1.55" height="8.5" fill="#000000" fill-opacity="0.56"/>
<rect x="262.81" y="625.1" width="1.55" height="27.3" fill="#000000" fill-opacity="0.56"/>
<rect x="265.28" y="639.8" width="1.55" height="12.6" fill="#646771" fill-opacity="0.5"/>
<rect x="267.76" y="643.6" width="1.55" height="8.8" fill="#646771" fill-opacity="0.5"/>
<rect x="270.23" y="646.1" width="1.55" height="6.3" fill="#000000" fill-opacity="0.56"/>
<rect x="272.70" y="644.4" width="1.55" height="8.0" fill="#646771" fill-opacity="0.5"/>
<rect x="275.18" y="639.4" width="1.55" height="13.0" fill="#000000" fill-opacity="0.56"/>
<rect x="277.65" y="643.1" width="1.55" height="9.3" fill="#646771" fill-opacity="0.5"/>
<rect x="280.12" y="644.4" width="1.55" height="8.0" fill="#646771" fill-opacity="0.5"/>
<rect x="282.60" y="646.1" width="1.55" height="6.3" fill="#646771" fill-opacity="0.5"/>
<rect x="285.07" y="629.1" width="1.55" height="23.3" fill="#646771" fill-opacity="0.5"/>
<rect x="287.54" y="641.4" width="1.55" height="11.0" fill="#646771" fill-opacity="0.5"/>
<rect x="290.01" y="636.1" width="1.55" height="16.3" fill="#646771" fill-opacity="0.5"/>
<rect x="292.49" y="640.4" width="1.55" height="12.0" fill="#000000" fill-opacity="0.56"/>
<rect x="294.96" y="631.4" width="1.55" height="21.0" fill="#000000" fill-opacity="0.56"/>
<rect x="297.43" y="628.4" width="1.55" height="24.0" fill="#646771" fill-opacity="0.5"/>
<rect x="299.91" y="639.8" width="1.55" height="12.6" fill="#000000" fill-opacity="0.56"/>
<rect x="302.38" y="642.4" width="1.55" height="10.0" fill="#646771" fill-opacity="0.5"/>
<rect x="304.85" y="646.1" width="1.55" height="6.3" fill="#646771" fill-opacity="0.5"/>
<rect x="307.33" y="623.1" width="1.55" height="29.3" fill="#646771" fill-opacity="0.5"/>
<rect x="309.80" y="586.4" width="1.55" height="66.0" fill="#646771" fill-opacity="0.5"/>
<rect x="312.27" y="632.4" width="1.55" height="20.0" fill="#646771" fill-opacity="0.5"/>
<rect x="314.75" y="599.1" width="1.55" height="53.3" fill="#000000" fill-opacity="0.56"/>
<rect x="317.22" y="626.4" width="1.55" height="26.0" fill="#646771" fill-opacity="0.5"/>
<rect x="319.69" y="639.4" width="1.55" height="13.0" fill="#646771" fill-opacity="0.5"/>
<rect x="322.16" y="637.4" width="1.55" height="15.0" fill="#000000" fill-opacity="0.56"/>
<rect x="324.64" y="636.4" width="1.55" height="16.0" fill="#646771" fill-opacity="0.5"/>
<rect x="327.11" y="635.4" width="1.55" height="17.0" fill="#000000" fill-opacity="0.56"/>
<rect x="329.58" y="638.4" width="1.55" height="14.0" fill="#646771" fill-opacity="0.5"/>
<rect x="332.06" y="639.4" width="1.55" height="13.0" fill="#646771" fill-opacity="0.5"/>
<rect x="334.53" y="642.4" width="1.55" height="10.0" fill="#646771" fill-opacity="0.5"/>
<rect x="337.00" y="646.4" width="1.55" height="6.0" fill="#000000" fill-opacity="0.56"/>
<rect x="339.47" y="645.4" width="1.55" height="7.0" fill="#000000" fill-opacity="0.56"/>
<rect x="341.95" y="646.4" width="1.55" height="6.0" fill="#646771" fill-opacity="0.5"/>
<rect x="344.42" y="639.4" width="1.55" height="13.0" fill="#646771" fill-opacity="0.5"/>
<rect x="346.89" y="613.4" width="1.55" height="39.0" fill="#000000" fill-opacity="0.56"/>
<rect x="349.37" y="627.9" width="1.55" height="24.5" fill="#000000" fill-opacity="0.56"/>
<rect x="351.84" y="641.4" width="1.55" height="11.0" fill="#646771" fill-opacity="0.5"/>
<rect x="354.31" y="635.6" width="1.55" height="16.8" fill="#000000" fill-opacity="0.56"/>
<rect x="356.79" y="636.4" width="1.55" height="16.0" fill="#000000" fill-opacity="0.56"/>
<rect x="359.26" y="640.4" width="1.55" height="12.0" fill="#646771" fill-opacity="0.5"/>
<rect x="361.73" y="641.4" width="1.55" height="11.0" fill="#646771" fill-opacity="0.5"/>
<rect x="364.20" y="640.4" width="1.55" height="12.0" fill="#000000" fill-opacity="0.56"/>
<rect x="366.68" y="643.4" width="1.55" height="9.0" fill="#646771" fill-opacity="0.5"/>
<rect x="369.15" y="639.4" width="1.55" height="13.0" fill="#000000" fill-opacity="0.56"/>
<rect x="371.62" y="644.4" width="1.55" height="8.0" fill="#646771" fill-opacity="0.5"/>
<rect x="374.10" y="646.4" width="1.55" height="6.0" fill="#000000" fill-opacity="0.56"/>
<rect x="376.57" y="646.4" width="1.55" height="6.0" fill="#000000" fill-opacity="0.56"/>
<rect x="379.04" y="640.4" width="1.55" height="12.0" fill="#000000" fill-opacity="0.56"/>
<rect x="381.52" y="641.4" width="1.55" height="11.0" fill="#646771" fill-opacity="0.5"/>
<rect x="383.99" y="644.4" width="1.55" height="8.0" fill="#646771" fill-opacity="0.5"/>
<rect x="386.46" y="610.4" width="1.55" height="42.0" fill="#000000" fill-opacity="0.56"/>
<rect x="388.94" y="594.4" width="1.55" height="58.0" fill="#000000" fill-opacity="0.56"/>
<rect x="391.41" y="620.4" width="1.55" height="32.0" fill="#000000" fill-opacity="0.56"/>
<rect x="393.88" y="620.4" width="1.55" height="32.0" fill="#646771" fill-opacity="0.5"/>
<rect x="396.35" y="627.9" width="1.55" height="24.5" fill="#000000" fill-opacity="0.56"/>
<rect x="398.83" y="627.4" width="1.55" height="25.0" fill="#000000" fill-opacity="0.56"/>
<rect x="401.30" y="626.4" width="1.55" height="26.0" fill="#646771" fill-opacity="0.5"/>
<rect x="403.77" y="632.9" width="1.55" height="19.5" fill="#646771" fill-opacity="0.5"/>
<rect x="406.25" y="638.6" width="1.55" height="13.8" fill="#646771" fill-opacity="0.5"/>
<rect x="408.72" y="638.1" width="1.55" height="14.3" fill="#646771" fill-opacity="0.5"/>
<rect x="411.19" y="630.4" width="1.55" height="22.0" fill="#646771" fill-opacity="0.5"/>
<rect x="413.66" y="629.4" width="1.55" height="23.0" fill="#000000" fill-opacity="0.56"/>
<rect x="416.14" y="636.4" width="1.55" height="16.0" fill="#646771" fill-opacity="0.5"/>
<rect x="418.61" y="628.4" width="1.55" height="24.0" fill="#646771" fill-opacity="0.5"/>
<rect x="421.08" y="632.9" width="1.55" height="19.5" fill="#000000" fill-opacity="0.56"/>
<rect x="423.56" y="626.6" width="1.55" height="25.8" fill="#646771" fill-opacity="0.5"/>
<rect x="426.03" y="647.1" width="1.55" height="5.3" fill="#646771" fill-opacity="0.5"/>
<rect x="428.50" y="643.4" width="1.55" height="9.0" fill="#646771" fill-opacity="0.5"/>
<rect x="430.98" y="646.1" width="1.55" height="6.3" fill="#000000" fill-opacity="0.56"/>
<rect x="433.45" y="635.6" width="1.55" height="16.8" fill="#000000" fill-opacity="0.56"/>
<rect x="435.92" y="640.1" width="1.55" height="12.3" fill="#000000" fill-opacity="0.56"/>
<rect x="438.39" y="627.9" width="1.55" height="24.5" fill="#000000" fill-opacity="0.56"/>
<rect x="440.87" y="633.4" width="1.55" height="19.0" fill="#646771" fill-opacity="0.5"/>
<rect x="443.34" y="641.6" width="1.55" height="10.8" fill="#646771" fill-opacity="0.5"/>
<rect x="445.81" y="645.1" width="1.55" height="7.3" fill="#646771" fill-opacity="0.5"/>
<rect x="448.29" y="640.1" width="1.55" height="12.3" fill="#000000" fill-opacity="0.56"/>
<rect x="450.76" y="633.4" width="1.55" height="19.0" fill="#646771" fill-opacity="0.5"/>
<rect x="453.23" y="629.4" width="1.55" height="23.0" fill="#000000" fill-opacity="0.56"/>
<rect x="455.71" y="624.1" width="1.55" height="28.3" fill="#646771" fill-opacity="0.5"/>
<rect x="458.18" y="637.4" width="1.55" height="15.0" fill="#646771" fill-opacity="0.5"/>
<rect x="460.65" y="645.1" width="1.55" height="7.3" fill="#000000" fill-opacity="0.56"/>
<rect x="463.12" y="646.1" width="1.55" height="6.3" fill="#646771" fill-opacity="0.5"/>
<rect x="465.60" y="636.1" width="1.55" height="16.3" fill="#000000" fill-opacity="0.56"/>
<rect x="468.07" y="621.1" width="1.55" height="31.3" fill="#000000" fill-opacity="0.56"/>
<rect x="470.54" y="620.6" width="1.55" height="31.8" fill="#646771" fill-opacity="0.5"/>
<rect x="473.02" y="635.6" width="1.55" height="16.8" fill="#646771" fill-opacity="0.5"/>
<rect x="475.49" y="625.1" width="1.55" height="27.3" fill="#646771" fill-opacity="0.5"/>
<rect x="477.96" y="646.6" width="1.55" height="5.8" fill="#646771" fill-opacity="0.5"/>
<rect x="480.44" y="646.6" width="1.55" height="5.8" fill="#000000" fill-opacity="0.56"/>
<rect x="482.91" y="629.4" width="1.55" height="23.0" fill="#646771" fill-opacity="0.5"/>
<rect x="485.38" y="636.9" width="1.55" height="15.5" fill="#000000" fill-opacity="0.56"/>
<rect x="487.85" y="639.4" width="1.55" height="13.0" fill="#000000" fill-opacity="0.56"/>
<rect x="490.33" y="643.9" width="1.55" height="8.5" fill="#000000" fill-opacity="0.56"/>
<rect x="492.80" y="638.1" width="1.55" height="14.3" fill="#646771" fill-opacity="0.5"/>
<rect x="495.27" y="633.1" width="1.55" height="19.3" fill="#646771" fill-opacity="0.5"/>
<rect x="497.75" y="619.6" width="1.55" height="32.8" fill="#646771" fill-opacity="0.5"/>
<rect x="500.22" y="626.6" width="1.55" height="25.8" fill="#000000" fill-opacity="0.56"/>
<rect x="502.69" y="635.1" width="1.55" height="17.3" fill="#000000" fill-opacity="0.56"/>
<rect x="505.17" y="641.6" width="1.55" height="10.8" fill="#646771" fill-opacity="0.5"/>
<rect x="507.64" y="642.6" width="1.55" height="9.8" fill="#000000" fill-opacity="0.56"/>
<rect x="510.11" y="646.6" width="1.55" height="5.8" fill="#000000" fill-opacity="0.56"/>
<rect x="512.59" y="648.6" width="1.55" height="3.8" fill="#000000" fill-opacity="0.56"/>
<rect x="515.06" y="646.6" width="1.55" height="5.8" fill="#000000" fill-opacity="0.56"/>
<rect x="517.53" y="643.9" width="1.55" height="8.5" fill="#000000" fill-opacity="0.56"/>
<rect x="520.00" y="645.4" width="1.55" height="7.0" fill="#646771" fill-opacity="0.5"/>
<rect x="522.48" y="639.4" width="1.55" height="13.0" fill="#000000" fill-opacity="0.56"/>
<rect x="524.95" y="642.6" width="1.55" height="9.8" fill="#000000" fill-opacity="0.56"/>
<rect x="527.42" y="645.1" width="1.55" height="7.3" fill="#646771" fill-opacity="0.5"/>
<rect x="529.90" y="649.4" width="1.55" height="3.0" fill="#000000" fill-opacity="0.56"/>
<rect x="532.37" y="647.4" width="1.55" height="5.0" fill="#000000" fill-opacity="0.56"/>
<rect x="534.84" y="646.1" width="1.55" height="6.3" fill="#646771" fill-opacity="0.5"/>
<rect x="537.31" y="646.1" width="1.55" height="6.3" fill="#000000" fill-opacity="0.56"/>
<rect x="539.79" y="633.9" width="1.55" height="18.5" fill="#000000" fill-opacity="0.56"/>
<rect x="542.26" y="626.4" width="1.55" height="26.0" fill="#000000" fill-opacity="0.56"/>
<rect x="544.73" y="630.4" width="1.55" height="22.0" fill="#646771" fill-opacity="0.5"/>
<rect x="547.21" y="644.1" width="1.55" height="8.3" fill="#646771" fill-opacity="0.5"/>
<rect x="549.68" y="645.1" width="1.55" height="7.3" fill="#646771" fill-opacity="0.5"/>
<rect x="552.15" y="632.4" width="1.55" height="20.0" fill="#000000" fill-opacity="0.56"/>
<rect x="554.63" y="623.4" width="1.55" height="29.0" fill="#000000" fill-opacity="0.56"/>
<rect x="557.10" y="608.4" width="1.55" height="44.0" fill="#000000" fill-opacity="0.56"/>
<rect x="559.57" y="619.6" width="1.55" height="32.8" fill="#000000" fill-opacity="0.56"/>
<rect x="562.04" y="613.4" width="1.55" height="39.0" fill="#000000" fill-opacity="0.56"/>
<rect x="564.52" y="645.1" width="1.55" height="7.3" fill="#000000" fill-opacity="0.56"/>
<rect x="566.99" y="605.8" width="1.55" height="46.6" fill="#000000" fill-opacity="0.56"/>
<rect x="569.46" y="613.1" width="1.55" height="39.3" fill="#000000" fill-opacity="0.56"/>
<rect x="571.94" y="619.4" width="1.55" height="33.0" fill="#646771" fill-opacity="0.5"/>
<rect x="574.41" y="624.6" width="1.55" height="27.8" fill="#646771" fill-opacity="0.5"/>
<rect x="576.88" y="626.1" width="1.55" height="26.3" fill="#000000" fill-opacity="0.56"/>
<rect x="579.36" y="623.4" width="1.55" height="29.0" fill="#000000" fill-opacity="0.56"/>
<rect x="581.83" y="642.4" width="1.55" height="10.0" fill="#000000" fill-opacity="0.56"/>
<rect x="584.30" y="636.6" width="1.55" height="15.8" fill="#000000" fill-opacity="0.56"/>
<rect x="586.77" y="631.6" width="1.55" height="20.8" fill="#646771" fill-opacity="0.5"/>
<rect x="589.25" y="636.6" width="1.55" height="15.8" fill="#000000" fill-opacity="0.56"/>
<rect x="591.72" y="638.4" width="1.55" height="14.0" fill="#000000" fill-opacity="0.56"/>
<rect x="594.19" y="640.1" width="1.55" height="12.3" fill="#646771" fill-opacity="0.5"/>
<rect x="596.67" y="626.6" width="1.55" height="25.8" fill="#646771" fill-opacity="0.5"/>
<rect x="599.14" y="638.6" width="1.55" height="13.8" fill="#646771" fill-opacity="0.5"/>
<rect x="601.61" y="643.9" width="1.55" height="8.5" fill="#000000" fill-opacity="0.56"/>
<rect x="604.09" y="638.1" width="1.55" height="14.3" fill="#000000" fill-opacity="0.56"/>
<rect x="606.56" y="632.9" width="1.55" height="19.5" fill="#646771" fill-opacity="0.5"/>
<rect x="609.03" y="643.1" width="1.55" height="9.3" fill="#000000" fill-opacity="0.56"/>
<rect x="611.50" y="635.1" width="1.55" height="17.3" fill="#000000" fill-opacity="0.56"/>
<rect x="613.98" y="626.6" width="1.55" height="25.8" fill="#000000" fill-opacity="0.56"/>
<rect x="616.45" y="622.4" width="1.55" height="30.0" fill="#000000" fill-opacity="0.56"/>
<rect x="618.92" y="626.6" width="1.55" height="25.8" fill="#646771" fill-opacity="0.5"/>
<rect x="621.40" y="622.9" width="1.55" height="29.5" fill="#646771" fill-opacity="0.5"/>
<rect x="623.87" y="602.4" width="1.55" height="50.0" fill="#000000" fill-opacity="0.56"/>
<rect x="626.34" y="611.4" width="1.55" height="41.0" fill="#000000" fill-opacity="0.56"/>
<rect x="628.82" y="604.4" width="1.55" height="48.0" fill="#646771" fill-opacity="0.5"/>
<rect x="631.29" y="626.1" width="1.55" height="26.3" fill="#646771" fill-opacity="0.5"/>
<rect x="633.76" y="639.1" width="1.55" height="13.3" fill="#646771" fill-opacity="0.5"/>
<rect x="636.24" y="635.6" width="1.55" height="16.8" fill="#000000" fill-opacity="0.56"/>
<rect x="638.71" y="631.6" width="1.55" height="20.8" fill="#646771" fill-opacity="0.5"/>
<rect x="641.18" y="636.1" width="1.55" height="16.3" fill="#646771" fill-opacity="0.5"/>
<rect x="643.65" y="634.4" width="1.55" height="18.0" fill="#000000" fill-opacity="0.56"/>
<rect x="646.13" y="642.6" width="1.55" height="9.8" fill="#646771" fill-opacity="0.5"/>
<rect x="648.60" y="614.1" width="1.55" height="38.3" fill="#000000" fill-opacity="0.56"/>
<rect x="651.07" y="632.9" width="1.55" height="19.5" fill="#000000" fill-opacity="0.56"/>
<rect x="653.55" y="621.8" width="1.55" height="30.6" fill="#000000" fill-opacity="0.56"/>
<rect x="656.02" y="616.9" width="1.55" height="35.5" fill="#646771" fill-opacity="0.5"/>
<rect x="658.49" y="630.4" width="1.55" height="22.0" fill="#000000" fill-opacity="0.56"/>
<rect x="660.96" y="626.6" width="1.55" height="25.8" fill="#646771" fill-opacity="0.5"/>
<rect x="663.44" y="633.4" width="1.55" height="19.0" fill="#646771" fill-opacity="0.5"/>
<rect x="665.91" y="633.9" width="1.55" height="18.5" fill="#000000" fill-opacity="0.56"/>
<rect x="668.38" y="643.1" width="1.55" height="9.3" fill="#646771" fill-opacity="0.5"/>
<rect x="670.86" y="642.4" width="1.55" height="10.0" fill="#000000" fill-opacity="0.56"/>
<rect x="673.33" y="637.4" width="1.55" height="15.0" fill="#646771" fill-opacity="0.5"/>
<rect x="675.80" y="639.1" width="1.55" height="13.3" fill="#646771" fill-opacity="0.5"/>
<rect x="678.28" y="632.9" width="1.55" height="19.5" fill="#000000" fill-opacity="0.56"/>
<rect x="680.75" y="641.1" width="1.55" height="11.3" fill="#646771" fill-opacity="0.5"/>
<rect x="683.22" y="640.4" width="1.55" height="12.0" fill="#000000" fill-opacity="0.56"/>
<rect x="685.69" y="648.1" width="1.55" height="4.3" fill="#646771" fill-opacity="0.5"/>
<rect x="688.17" y="648.6" width="1.55" height="3.8" fill="#646771" fill-opacity="0.5"/>
<rect x="690.64" y="642.6" width="1.55" height="9.8" fill="#646771" fill-opacity="0.5"/>
<rect x="693.11" y="647.1" width="1.55" height="5.3" fill="#000000" fill-opacity="0.56"/>
<rect x="695.59" y="641.6" width="1.55" height="10.8" fill="#646771" fill-opacity="0.5"/>
<rect x="698.06" y="642.6" width="1.55" height="9.8" fill="#000000" fill-opacity="0.56"/>
<rect x="700.53" y="636.6" width="1.55" height="15.8" fill="#000000" fill-opacity="0.56"/>
<rect x="703.01" y="643.4" width="1.55" height="9.0" fill="#646771" fill-opacity="0.5"/>
<rect x="705.48" y="641.1" width="1.55" height="11.3" fill="#646771" fill-opacity="0.5"/>
<rect x="707.95" y="643.4" width="1.55" height="9.0" fill="#646771" fill-opacity="0.5"/>
<rect x="710.42" y="642.6" width="1.55" height="9.8" fill="#646771" fill-opacity="0.5"/>
<rect x="712.90" y="638.1" width="1.55" height="14.3" fill="#000000" fill-opacity="0.56"/>
<rect x="715.37" y="644.4" width="1.55" height="8.0" fill="#646771" fill-opacity="0.5"/>
<rect x="717.84" y="647.4" width="1.55" height="5.0" fill="#646771" fill-opacity="0.5"/>
<rect x="720.32" y="650.1" width="1.55" height="2.3" fill="#000000" fill-opacity="0.56"/>
<rect x="722.79" y="649.4" width="1.55" height="3.0" fill="#646771" fill-opacity="0.5"/>
<rect x="725.26" y="625.4" width="1.55" height="27.0" fill="#646771" fill-opacity="0.5"/>
<rect x="727.74" y="644.4" width="1.55" height="8.0" fill="#646771" fill-opacity="0.5"/>
<rect x="730.21" y="645.1" width="1.55" height="7.3" fill="#646771" fill-opacity="0.5"/>
<rect x="732.68" y="632.4" width="1.55" height="20.0" fill="#646771" fill-opacity="0.5"/>
<rect x="735.15" y="641.1" width="1.55" height="11.3" fill="#000000" fill-opacity="0.56"/>
<rect x="737.63" y="648.1" width="1.55" height="4.3" fill="#646771" fill-opacity="0.5"/>
<rect x="740.10" y="647.6" width="1.55" height="4.8" fill="#000000" fill-opacity="0.56"/>
<rect x="742.57" y="636.1" width="1.55" height="16.3" fill="#646771" fill-opacity="0.5"/>
<rect x="745.05" y="639.4" width="1.55" height="13.0" fill="#646771" fill-opacity="0.5"/>
<rect x="747.52" y="641.4" width="1.55" height="11.0" fill="#000000" fill-opacity="0.56"/>
<rect x="749.99" y="642.6" width="1.55" height="9.8" fill="#000000" fill-opacity="0.56"/>
<rect x="752.47" y="641.1" width="1.55" height="11.3" fill="#646771" fill-opacity="0.5"/>
<rect x="754.94" y="644.4" width="1.55" height="8.0" fill="#646771" fill-opacity="0.5"/>
<rect x="757.41" y="643.4" width="1.55" height="9.0" fill="#646771" fill-opacity="0.5"/>
<rect x="759.88" y="642.1" width="1.55" height="10.3" fill="#000000" fill-opacity="0.56"/>
<rect x="762.36" y="636.1" width="1.55" height="16.3" fill="#646771" fill-opacity="0.5"/>
<rect x="764.83" y="644.4" width="1.55" height="8.0" fill="#000000" fill-opacity="0.56"/>
<rect x="767.30" y="640.1" width="1.55" height="12.3" fill="#646771" fill-opacity="0.5"/>
<rect x="769.78" y="584.4" width="1.55" height="68.0" fill="#646771" fill-opacity="0.5"/>
<rect x="772.25" y="623.4" width="1.55" height="29.0" fill="#646771" fill-opacity="0.5"/>
<rect x="774.72" y="624.1" width="1.55" height="28.3" fill="#000000" fill-opacity="0.56"/>
<rect x="777.20" y="636.6" width="1.55" height="15.8" fill="#000000" fill-opacity="0.56"/>
<rect x="779.67" y="631.4" width="1.55" height="21.0" fill="#646771" fill-opacity="0.5"/>
<rect x="782.14" y="639.1" width="1.55" height="13.3" fill="#646771" fill-opacity="0.5"/>
<rect x="784.62" y="640.1" width="1.55" height="12.3" fill="#000000" fill-opacity="0.56"/>
<rect x="787.09" y="636.6" width="1.55" height="15.8" fill="#000000" fill-opacity="0.56"/>
<rect x="789.56" y="647.4" width="1.55" height="5.0" fill="#000000" fill-opacity="0.56"/>
<rect x="792.03" y="640.1" width="1.55" height="12.3" fill="#000000" fill-opacity="0.56"/>
<rect x="794.51" y="644.4" width="1.55" height="8.0" fill="#646771" fill-opacity="0.5"/>
<rect x="796.98" y="640.4" width="1.55" height="12.0" fill="#646771" fill-opacity="0.5"/>
<rect x="799.45" y="639.1" width="1.55" height="13.3" fill="#646771" fill-opacity="0.5"/>
<rect x="801.93" y="643.4" width="1.55" height="9.0" fill="#646771" fill-opacity="0.5"/>
<rect x="804.40" y="641.6" width="1.55" height="10.8" fill="#000000" fill-opacity="0.56"/>
<rect x="806.87" y="647.6" width="1.55" height="4.8" fill="#646771" fill-opacity="0.5"/>
<rect x="809.34" y="639.4" width="1.55" height="13.0" fill="#000000" fill-opacity="0.56"/>
<rect x="811.82" y="633.9" width="1.55" height="18.5" fill="#646771" fill-opacity="0.5"/>
<rect x="814.29" y="642.4" width="1.55" height="10.0" fill="#646771" fill-opacity="0.5"/>
<rect x="816.76" y="641.1" width="1.55" height="11.3" fill="#000000" fill-opacity="0.56"/>
<rect x="819.24" y="640.4" width="1.55" height="12.0" fill="#646771" fill-opacity="0.5"/>
<rect x="821.71" y="644.4" width="1.55" height="8.0" fill="#646771" fill-opacity="0.5"/>
<rect x="824.18" y="648.9" width="1.55" height="3.5" fill="#000000" fill-opacity="0.56"/>
<rect x="826.66" y="647.4" width="1.55" height="5.0" fill="#000000" fill-opacity="0.56"/>
<rect x="829.13" y="633.4" width="1.55" height="19.0" fill="#646771" fill-opacity="0.5"/>
<rect x="831.60" y="614.1" width="1.55" height="38.3" fill="#646771" fill-opacity="0.5"/>
<rect x="834.07" y="636.4" width="1.55" height="16.0" fill="#000000" fill-opacity="0.56"/>
<rect x="836.55" y="641.4" width="1.55" height="11.0" fill="#646771" fill-opacity="0.5"/>
<rect x="839.02" y="640.1" width="1.55" height="12.3" fill="#000000" fill-opacity="0.56"/>
<rect x="841.49" y="641.1" width="1.55" height="11.3" fill="#646771" fill-opacity="0.5"/>
<rect x="843.97" y="643.4" width="1.55" height="9.0" fill="#000000" fill-opacity="0.56"/>
<rect x="846.44" y="641.6" width="1.55" height="10.8" fill="#646771" fill-opacity="0.5"/>
<rect x="848.91" y="642.6" width="1.55" height="9.8" fill="#646771" fill-opacity="0.5"/>
<rect x="851.39" y="643.4" width="1.55" height="9.0" fill="#000000" fill-opacity="0.56"/>
<rect x="853.86" y="635.1" width="1.55" height="17.3" fill="#646771" fill-opacity="0.5"/>
<rect x="856.33" y="632.4" width="1.55" height="20.0" fill="#000000" fill-opacity="0.56"/>
<rect x="858.80" y="646.6" width="1.55" height="5.8" fill="#000000" fill-opacity="0.56"/>
<rect x="861.28" y="638.1" width="1.55" height="14.3" fill="#646771" fill-opacity="0.5"/>
<rect x="863.75" y="632.4" width="1.55" height="20.0" fill="#000000" fill-opacity="0.56"/>
<rect x="866.22" y="634.1" width="1.55" height="18.3" fill="#000000" fill-opacity="0.56"/>
<rect x="868.70" y="633.9" width="1.55" height="18.5" fill="#646771" fill-opacity="0.5"/>
<rect x="871.17" y="629.1" width="1.55" height="23.3" fill="#646771" fill-opacity="0.5"/>
<rect x="873.64" y="591.4" width="1.55" height="61.0" fill="#646771" fill-opacity="0.5"/>
<rect x="876.12" y="643.9" width="1.55" height="8.5" fill="#000000" fill-opacity="0.56"/>
<rect x="878.59" y="638.1" width="1.55" height="14.3" fill="#646771" fill-opacity="0.5"/>
<rect x="881.06" y="626.4" width="1.55" height="26.0" fill="#000000" fill-opacity="0.56"/>
<rect x="883.53" y="635.6" width="1.55" height="16.8" fill="#000000" fill-opacity="0.56"/>
<rect x="886.01" y="638.1" width="1.55" height="14.3" fill="#646771" fill-opacity="0.5"/>
<rect x="888.48" y="637.1" width="1.55" height="15.3" fill="#646771" fill-opacity="0.5"/>
<rect x="890.95" y="635.6" width="1.55" height="16.8" fill="#000000" fill-opacity="0.56"/>
<rect x="893.43" y="646.4" width="1.55" height="6.0" fill="#646771" fill-opacity="0.5"/>
<rect x="895.90" y="650.9" width="1.55" height="1.5" fill="#000000" fill-opacity="0.56"/>
<rect x="898.37" y="651.4" width="1.55" height="1.0" fill="#646771" fill-opacity="0.5"/>
<polyline fill="none" stroke="#4a7be4" stroke-width="1" stroke-linejoin="round" points="5.5,257.5 10.0,246.2 15.0,240.0 20.0,240.0 25.0,237.5 30.0,236.2 35.0,240.0 40.0,246.2 45.0,256.2 50.0,263.8 55.0,270.0 60.0,274.5 65.5,277.0 71.2,278.0 75.0,279.5 78.8,276.2 82.5,273.8 87.5,277.5 93.8,283.8 100.0,290.0 105.0,297.5 107.0,300.0 112.5,307.5 117.5,317.5 122.5,327.5 127.5,335.0 132.5,342.5 137.5,350.0 142.5,360.0 146.2,362.5 150.0,365.5 155.0,377.5 158.8,386.2 162.5,395.0 167.5,407.5 172.5,417.5 176.2,423.8 181.2,430.0 186.2,436.2 190.0,437.0 193.8,440.0 206.2,442.5 212.5,447.5 218.8,455.0 223.8,463.8 228.8,472.5 233.8,481.2 240.0,487.5 243.8,497.5 247.5,506.2 252.5,516.2 257.5,523.8 262.5,528.8 267.5,532.0 275.0,536.2 280.0,540.0 285.0,545.0 290.0,550.0 297.5,556.2 305.0,563.8 310.0,573.8 315.0,585.0 316.9,587.5 320.6,596.9 325.0,604.4 330.0,611.2 335.0,618.8 340.0,624.4 345.0,630.6 350.0,633.1 355.0,635.6 360.0,637.5 365.0,638.8 370.0,639.6 375.0,640.6 380.0,641.0 383.8,642.2 385.6,640.0 387.5,635.0 390.0,626.2 392.5,618.1 395.6,607.5 398.8,596.9 401.9,586.2 405.0,578.8 408.1,573.8 411.9,570.0 416.2,565.0 421.2,561.9 426.2,559.4 429.4,558.1 432.5,556.2 435.0,553.1 440.0,548.1 445.0,545.0 449.4,542.5 453.8,538.8 458.8,539.0 463.8,539.6 466.2,538.8 470.0,534.4 473.8,531.2 477.5,531.5 482.5,532.2 485.1,532.9 490.2,533.8 493.7,536.4 497.1,540.6 502.2,545.7 507.3,550.0 512.4,552.6 516.7,553.4 521.0,553.8 527.8,553.8 532.9,553.4 537.2,550.9 541.5,545.7 546.6,539.8 553.4,532.9 556.0,528.7 558.6,520.1 562.0,505.6 565.4,490.2 566.3,484.8 569.9,467.8 574.7,453.3 579.6,438.8 584.4,425.5 589.3,413.4 594.1,405.0 598.9,403.8 603.8,400.1 608.6,394.1 613.4,384.4 617.1,371.1 620.7,359.0 624.3,344.5 627.9,330.0 629.9,319.9 634.7,304.2 639.6,295.8 642.0,294.5 646.8,286.1 650.5,269.2 654.1,252.2 658.9,237.7 663.8,228.0 668.6,220.8 673.4,217.2 678.3,217.2 683.1,215.5 687.9,215.9 692.8,217.9 697.6,219.6 701.2,214.7 706.1,211.6 710.9,211.6 715.8,212.3 721.8,214.7 725.4,219.6 730.3,228.0 736.3,235.3 742.4,241.3 749.6,247.4 756.9,251.0 764.1,253.4 768.4,258.4 773.5,267.4 778.6,269.9 786.3,271.2 794.0,272.5 799.1,276.3 806.8,280.2 814.5,280.2 819.6,282.7 827.3,286.6 831.1,294.2 835.0,301.9 840.1,309.6 845.2,313.4 850.3,316.8 855.4,321.1 860.6,326.2 867.0,330.1 873.4,333.9 879.8,338.5 883.6,337.3 888.7,337.3 893.9,337.8 899.0,339.0"/>
<line x1="369.5" y1="123.4" x2="636.7" y2="123.4" stroke="#33353b" stroke-width="0.8"/>
<line x1="503.5" y1="123.4" x2="503.5" y2="652.4" stroke="#33353b" stroke-width="0.8"/>
<polyline points="500.6,126.6 503.5,123.6 506.4,126.6" fill="none" stroke="#33353b" stroke-width="0.8"/>
<circle cx="899.25" cy="645.6" r="5.5" fill="#fff" stroke="#b556d4" stroke-width="1.05"/>
<path d="M901.2 642.4 L896.9 645.6 L899 646.2 L897.3 648.6 L901.7 645.4 L899.6 644.8 Z" fill="#9c27b0" stroke="#9c27b0" stroke-width="0.3" stroke-linejoin="round"/>
<circle cx="903" cy="641.7" r="1.55" fill="#f01d36" stroke="#fff" stroke-width="0.55"/>
</g>
<rect x="5.5" y="77" width="1188.6" height="1.5" fill="#7b7e8a"/><rect x="5.5" y="78.5" width="1188.6" height="0.8" fill="#bbbec7"/><rect x="5.5" y="76.3" width="1188.6" height="0.7" fill="#bbbec7"/>
<rect x="5.5" y="652.2" width="1188.6" height="0.8" fill="#7b7e8a"/>
<text x="5.3" y="10.90" font-size="8.0" font-weight="normal" font-style="normal" fill="#f6f6f6" text-anchor="start" textLength="40.7" lengthAdjust="spacingAndGlyphs" stroke="#f6f6f6" stroke-width="0.45">CryptoMichNL</text>
<text x="48.5" y="10.90" font-size="8.0" font-weight="normal" font-style="normal" fill="#f6f6f6" text-anchor="start" textLength="23.5" lengthAdjust="spacingAndGlyphs" stroke="#f6f6f6" stroke-width="0.45">created</text>
<text x="74.5" y="10.90" font-size="8.0" font-weight="normal" font-style="normal" fill="#f6f6f6" text-anchor="start" textLength="12.0" lengthAdjust="spacingAndGlyphs" stroke="#f6f6f6" stroke-width="0.45">with</text>
<text x="88.5" y="10.90" font-size="8.0" font-weight="normal" font-style="normal" fill="#f6f6f6" text-anchor="start" textLength="51.5" lengthAdjust="spacingAndGlyphs" stroke="#f6f6f6" stroke-width="0.45">TradingView.com,</text>
<text x="142.0" y="10.90" font-size="8.0" font-weight="normal" font-style="normal" fill="#f6f6f6" text-anchor="start" textLength="10.5" lengthAdjust="spacingAndGlyphs" stroke="#f6f6f6" stroke-width="0.45">Dec</text>
<text x="155.0" y="10.90" font-size="8.0" font-weight="normal" font-style="normal" fill="#f6f6f6" text-anchor="start" textLength="7.0" lengthAdjust="spacingAndGlyphs" stroke="#f6f6f6" stroke-width="0.45">01,</text>
<text x="166.0" y="10.90" font-size="8.0" font-weight="normal" font-style="normal" fill="#f6f6f6" text-anchor="start" textLength="13.0" lengthAdjust="spacingAndGlyphs" stroke="#f6f6f6" stroke-width="0.45">2025</text>
<text x="182.0" y="10.90" font-size="8.0" font-weight="normal" font-style="normal" fill="#f6f6f6" text-anchor="start" textLength="16.0" lengthAdjust="spacingAndGlyphs" stroke="#f6f6f6" stroke-width="0.45">08:21</text>
<text x="200.5" y="10.90" font-size="8.0" font-weight="normal" font-style="normal" fill="#f6f6f6" text-anchor="start" textLength="11.7" lengthAdjust="spacingAndGlyphs" stroke="#f6f6f6" stroke-width="0.45">UTC</text>
<text x="10.0" y="88.75" font-size="7.8" font-weight="normal" font-style="normal" fill="#52555f" text-anchor="start" textLength="28.1" lengthAdjust="spacingAndGlyphs" stroke="#52555f" stroke-width="0.18">Ethereum</text>
<text x="41.3" y="88.75" font-size="7.8" font-weight="normal" font-style="normal" fill="#52555f" text-anchor="start" textLength="2.5" lengthAdjust="spacingAndGlyphs" stroke="#52555f" stroke-width="0.18">/</text>
<text x="46.0" y="88.75" font-size="7.8" font-weight="normal" font-style="normal" fill="#52555f" text-anchor="start" textLength="20.0" lengthAdjust="spacingAndGlyphs" stroke="#52555f" stroke-width="0.18">Bitcoin</text>
<circle cx="69.1" cy="86.1" r="0.65" fill="#52555f"/>
<text x="73.1" y="88.75" font-size="7.8" font-weight="normal" font-style="normal" fill="#52555f" text-anchor="start" textLength="6.9" lengthAdjust="spacingAndGlyphs" stroke="#52555f" stroke-width="0.18">1D</text>
<circle cx="83.6" cy="86.1" r="0.65" fill="#52555f"/>
<text x="86.9" y="88.75" font-size="7.8" font-weight="normal" font-style="normal" fill="#52555f" text-anchor="start" textLength="22.5" lengthAdjust="spacingAndGlyphs" stroke="#52555f" stroke-width="0.18">Binance</text>
<text x="114.4" y="88.75" font-size="7.8" font-weight="normal" font-style="normal" fill="#52555f" text-anchor="start" textLength="3.6" lengthAdjust="spacingAndGlyphs" stroke="#52555f" stroke-width="0.18">O</text>
<text x="118.1" y="88.75" font-size="7.8" font-weight="normal" font-style="normal" fill="#911d2c" text-anchor="start" textLength="23.8" lengthAdjust="spacingAndGlyphs" stroke="#911d2c" stroke-width="0.18">0.03310</text>
<text x="145.6" y="88.75" font-size="7.8" font-weight="normal" font-style="normal" fill="#52555f" text-anchor="start" textLength="3.6" lengthAdjust="spacingAndGlyphs" stroke="#52555f" stroke-width="0.18">H</text>
<text x="149.4" y="88.75" font-size="7.8" font-weight="normal" font-style="normal" fill="#911d2c" text-anchor="start" textLength="23.6" lengthAdjust="spacingAndGlyphs" stroke="#911d2c" stroke-width="0.18">0.03328</text>
<text x="177.3" y="88.75" font-size="7.8" font-weight="normal" font-style="normal" fill="#52555f" text-anchor="start" textLength="2.4" lengthAdjust="spacingAndGlyphs" stroke="#52555f" stroke-width="0.18">L</text>
<text x="179.8" y="88.75" font-size="7.8" font-weight="normal" font-style="normal" fill="#911d2c" text-anchor="start" textLength="23.5" lengthAdjust="spacingAndGlyphs" stroke="#911d2c" stroke-width="0.18">0.03255</text>
<text x="208.0" y="88.75" font-size="7.8" font-weight="normal" font-style="normal" fill="#52555f" text-anchor="start" textLength="3.3" lengthAdjust="spacingAndGlyphs" stroke="#52555f" stroke-width="0.18">C</text>
<text x="211.4" y="88.75" font-size="7.8" font-weight="normal" font-style="normal" fill="#911d2c" text-anchor="start" textLength="23.6" lengthAdjust="spacingAndGlyphs" stroke="#911d2c" stroke-width="0.18">0.03277</text>
<text x="239.3" y="88.75" font-size="7.8" font-weight="normal" font-style="normal" fill="#911d2c" text-anchor="start" textLength="26.0" lengthAdjust="spacingAndGlyphs" stroke="#911d2c" stroke-width="0.18">−0.00033</text>
<text x="268.0" y="88.75" font-size="7.8" font-weight="normal" font-style="normal" fill="#911d2c" text-anchor="start" textLength="24.0" lengthAdjust="spacingAndGlyphs" stroke="#911d2c" stroke-width="0.18">(−1.00%)</text>
<text x="1159.5" y="35.00" font-size="8.2" font-weight="normal" font-style="normal" fill="#50535e" text-anchor="start" textLength="18.6" lengthAdjust="spacingAndGlyphs">75.00</text>
<text x="1159.5" y="56.30" font-size="8.2" font-weight="normal" font-style="normal" fill="#50535e" text-anchor="start" textLength="18.6" lengthAdjust="spacingAndGlyphs">50.00</text>
<text x="1159.5" y="77.70" font-size="8.2" font-weight="normal" font-style="normal" fill="#50535e" text-anchor="start" textLength="18.6" lengthAdjust="spacingAndGlyphs">25.00</text>
<text x="1159.4" y="110.85" font-size="8.2" font-weight="normal" font-style="normal" fill="#50535e" text-anchor="start" textLength="26.6" lengthAdjust="spacingAndGlyphs">0.04400</text>
<text x="1159.4" y="132.33" font-size="8.2" font-weight="normal" font-style="normal" fill="#50535e" text-anchor="start" textLength="26.6" lengthAdjust="spacingAndGlyphs">0.04300</text>
<text x="1159.4" y="153.81" font-size="8.2" font-weight="normal" font-style="normal" fill="#50535e" text-anchor="start" textLength="26.6" lengthAdjust="spacingAndGlyphs">0.04200</text>
<text x="1159.4" y="175.29" font-size="8.2" font-weight="normal" font-style="normal" fill="#50535e" text-anchor="start" textLength="26.6" lengthAdjust="spacingAndGlyphs">0.04100</text>
<text x="1159.4" y="196.77" font-size="8.2" font-weight="normal" font-style="normal" fill="#50535e" text-anchor="start" textLength="26.6" lengthAdjust="spacingAndGlyphs">0.04000</text>
<text x="1159.4" y="218.25" font-size="8.2" font-weight="normal" font-style="normal" fill="#50535e" text-anchor="start" textLength="26.6" lengthAdjust="spacingAndGlyphs">0.03900</text>
<text x="1159.4" y="239.73" font-size="8.2" font-weight="normal" font-style="normal" fill="#50535e" text-anchor="start" textLength="26.6" lengthAdjust="spacingAndGlyphs">0.03800</text>
<text x="1159.4" y="261.21" font-size="8.2" font-weight="normal" font-style="normal" fill="#50535e" text-anchor="start" textLength="26.6" lengthAdjust="spacingAndGlyphs">0.03700</text>
<text x="1159.4" y="282.69" font-size="8.2" font-weight="normal" font-style="normal" fill="#50535e" text-anchor="start" textLength="26.6" lengthAdjust="spacingAndGlyphs">0.03600</text>
<text x="1159.4" y="304.17" font-size="8.2" font-weight="normal" font-style="normal" fill="#50535e" text-anchor="start" textLength="26.6" lengthAdjust="spacingAndGlyphs">0.03500</text>
<text x="1159.4" y="325.65" font-size="8.2" font-weight="normal" font-style="normal" fill="#50535e" text-anchor="start" textLength="26.6" lengthAdjust="spacingAndGlyphs">0.03400</text>
<text x="1159.4" y="347.13" font-size="8.2" font-weight="normal" font-style="normal" fill="#50535e" text-anchor="start" textLength="26.6" lengthAdjust="spacingAndGlyphs">0.03300</text>
<text x="1159.4" y="368.61" font-size="8.2" font-weight="normal" font-style="normal" fill="#50535e" text-anchor="start" textLength="26.6" lengthAdjust="spacingAndGlyphs">0.03200</text>
<text x="1159.4" y="390.09" font-size="8.2" font-weight="normal" font-style="normal" fill="#50535e" text-anchor="start" textLength="26.6" lengthAdjust="spacingAndGlyphs">0.03100</text>
<text x="1159.4" y="411.57" font-size="8.2" font-weight="normal" font-style="normal" fill="#50535e" text-anchor="start" textLength="26.6" lengthAdjust="spacingAndGlyphs">0.03000</text>
<text x="1159.4" y="433.05" font-size="8.2" font-weight="normal" font-style="normal" fill="#50535e" text-anchor="start" textLength="26.6" lengthAdjust="spacingAndGlyphs">0.02900</text>
<text x="1159.4" y="454.53" font-size="8.2" font-weight="normal" font-style="normal" fill="#50535e" text-anchor="start" textLength="26.6" lengthAdjust="spacingAndGlyphs">0.02800</text>
<text x="1159.4" y="476.01" font-size="8.2" font-weight="normal" font-style="normal" fill="#50535e" text-anchor="start" textLength="26.6" lengthAdjust="spacingAndGlyphs">0.02700</text>
<text x="1159.4" y="497.49" font-size="8.2" font-weight="normal" font-style="normal" fill="#50535e" text-anchor="start" textLength="26.6" lengthAdjust="spacingAndGlyphs">0.02600</text>
<text x="1159.4" y="518.97" font-size="8.2" font-weight="normal" font-style="normal" fill="#50535e" text-anchor="start" textLength="26.6" lengthAdjust="spacingAndGlyphs">0.02500</text>
<text x="1159.4" y="540.45" font-size="8.2" font-weight="normal" font-style="normal" fill="#50535e" text-anchor="start" textLength="26.6" lengthAdjust="spacingAndGlyphs">0.02400</text>
<text x="1159.4" y="561.93" font-size="8.2" font-weight="normal" font-style="normal" fill="#50535e" text-anchor="start" textLength="26.6" lengthAdjust="spacingAndGlyphs">0.02300</text>
<text x="1159.4" y="583.41" font-size="8.2" font-weight="normal" font-style="normal" fill="#50535e" text-anchor="start" textLength="26.6" lengthAdjust="spacingAndGlyphs">0.02200</text>
<text x="1159.4" y="604.89" font-size="8.2" font-weight="normal" font-style="normal" fill="#50535e" text-anchor="start" textLength="26.6" lengthAdjust="spacingAndGlyphs">0.02100</text>
<text x="1159.4" y="626.37" font-size="8.2" font-weight="normal" font-style="normal" fill="#50535e" text-anchor="start" textLength="26.6" lengthAdjust="spacingAndGlyphs">0.02000</text>
<text x="1159.4" y="647.85" font-size="8.2" font-weight="normal" font-style="normal" fill="#50535e" text-anchor="start" textLength="26.6" lengthAdjust="spacingAndGlyphs">0.01900</text>
<text x="64.2" y="663.40" font-size="7.9" font-weight="bold" font-style="normal" fill="#4c4f5a" text-anchor="start" textLength="18.0" lengthAdjust="spacingAndGlyphs">2025</text>
<text x="143.4" y="663.40" font-size="7.9" font-weight="normal" font-style="normal" fill="#50535e" text-anchor="start" textLength="12.8" lengthAdjust="spacingAndGlyphs">Feb</text>
<text x="213.0" y="663.40" font-size="7.9" font-weight="normal" font-style="normal" fill="#50535e" text-anchor="start" textLength="12.6" lengthAdjust="spacingAndGlyphs">Mar</text>
<text x="289.1" y="663.40" font-size="7.9" font-weight="normal" font-style="normal" fill="#50535e" text-anchor="start" textLength="12.8" lengthAdjust="spacingAndGlyphs">Apr</text>
<text x="362.9" y="663.40" font-size="7.9" font-weight="normal" font-style="normal" fill="#50535e" text-anchor="start" textLength="14.2" lengthAdjust="spacingAndGlyphs">May</text>
<text x="440.4" y="663.40" font-size="7.9" font-weight="normal" font-style="normal" fill="#50535e" text-anchor="start" textLength="12.2" lengthAdjust="spacingAndGlyphs">Jun</text>
<text x="515.2" y="663.40" font-size="7.9" font-weight="normal" font-style="normal" fill="#50535e" text-anchor="start" textLength="10.6" lengthAdjust="spacingAndGlyphs">Jul</text>
<text x="590.5" y="663.40" font-size="7.9" font-weight="normal" font-style="normal" fill="#50535e" text-anchor="start" textLength="13.6" lengthAdjust="spacingAndGlyphs">Aug</text>
<text x="667.1" y="663.40" font-size="7.9" font-weight="normal" font-style="normal" fill="#50535e" text-anchor="start" textLength="12.8" lengthAdjust="spacingAndGlyphs">Sep</text>
<text x="741.6" y="663.40" font-size="7.9" font-weight="normal" font-style="normal" fill="#50535e" text-anchor="start" textLength="12.8" lengthAdjust="spacingAndGlyphs">Oct</text>
<text x="817.8" y="663.40" font-size="7.9" font-weight="normal" font-style="normal" fill="#50535e" text-anchor="start" textLength="13.4" lengthAdjust="spacingAndGlyphs">Nov</text>
<text x="892.8" y="663.40" font-size="7.9" font-weight="normal" font-style="normal" fill="#50535e" text-anchor="start" textLength="12.8" lengthAdjust="spacingAndGlyphs">Dec</text>
<text x="966.8" y="663.40" font-size="7.9" font-weight="bold" font-style="normal" fill="#4c4f5a" text-anchor="start" textLength="18.0" lengthAdjust="spacingAndGlyphs">2026</text>
<text x="1046.1" y="663.40" font-size="7.9" font-weight="normal" font-style="normal" fill="#50535e" text-anchor="start" textLength="12.8" lengthAdjust="spacingAndGlyphs">Feb</text>
<text x="1114.9" y="663.40" font-size="7.9" font-weight="normal" font-style="normal" fill="#50535e" text-anchor="start" textLength="12.6" lengthAdjust="spacingAndGlyphs">Mar</text>
<path d="M6.2 681.9 H13.8 V689.9 H9.7 V685.6 H6.2 Z" fill="#e6e6e6"/>
<circle cx="15.65" cy="683.4" r="1.1" fill="#e6e6e6"/>
<path d="M19 681.9 H22.9 L19.7 689.9 H15.9 Z" fill="#e6e6e6"/>
</svg>
<div id="btc"></div>
<div id="meas"></div>
<div class="tag" style="top:343.2px;width:38px;height:20.3px;background:#4b4f5c;"></div>
<div class="tag" style="top:364.2px;width:35.3px;height:10.6px;background:#000;"></div>
<div class="tag" style="top:489px;width:35.3px;height:10.8px;background:#801922;"></div>
<div class="tag" style="top:548px;width:35.3px;height:10.8px;background:#1b5e20;"></div>
<div class="tag" style="top:631px;width:35.3px;height:11.2px;background:#880f1d;"></div>
<svg width="1200" height="703" viewBox="0 0 1200 703">
<text x="1159.0" y="352.50" font-size="8.2" font-weight="bold" font-style="normal" fill="#fff" text-anchor="start" textLength="26.9" lengthAdjust="spacingAndGlyphs">0.03277</text>
<text x="1160.0" y="361.60" font-size="8.2" font-weight="normal" font-style="normal" fill="#e4e6ec" text-anchor="start" textLength="28.9" lengthAdjust="spacingAndGlyphs">15:38:30</text>
<text x="1159.0" y="372.40" font-size="8.2" font-weight="bold" font-style="normal" fill="#fff" text-anchor="start" textLength="26.9" lengthAdjust="spacingAndGlyphs">0.03250</text>
<text x="1159.0" y="497.40" font-size="8.2" font-weight="bold" font-style="normal" fill="#fff" text-anchor="start" textLength="26.9" lengthAdjust="spacingAndGlyphs">0.02601</text>
<text x="1159.0" y="556.40" font-size="8.2" font-weight="bold" font-style="normal" fill="#fff" text-anchor="start" textLength="26.9" lengthAdjust="spacingAndGlyphs">0.02327</text>
<text x="1159.0" y="639.80" font-size="8.2" font-weight="bold" font-style="normal" fill="#fff" text-anchor="start" textLength="26.9" lengthAdjust="spacingAndGlyphs">0.01941</text>
<text x="467.2" y="114.10" font-size="8.4" font-weight="bold" font-style="normal" fill="#fff" text-anchor="start" textLength="72.2" lengthAdjust="spacingAndGlyphs">0.02556 (144.29%) 2,556</text>
<text x="865.5" y="401.80" font-size="8.1" font-weight="bold" font-style="italic" fill="#2b2e38" text-anchor="start" textLength="68.5" lengthAdjust="spacingAndGlyphs">Ideal zone for buys.</text>
<text x="1160.9" y="89.90" font-size="7.6" font-weight="normal" font-style="normal" fill="#2a2e39" text-anchor="start" textLength="11.5" lengthAdjust="spacingAndGlyphs">BTC</text>
<text x="27.0" y="689.90" font-size="10.6" font-weight="bold" font-style="normal" fill="#e6e6e6" text-anchor="start" textLength="66.6" lengthAdjust="spacingAndGlyphs">TradingView</text>
</svg>
</body></html>
